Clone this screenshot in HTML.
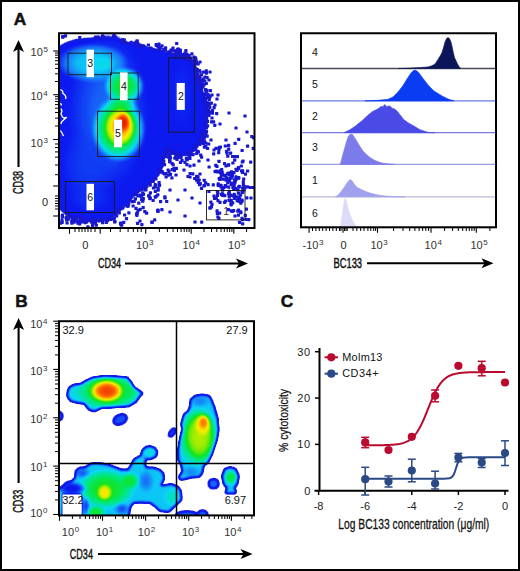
<!DOCTYPE html><html><head><meta charset="utf-8"><style>html,body{margin:0;padding:0;background:#fff}svg{display:block;fill:#111}text{font-family:"Liberation Sans",sans-serif}</style></head><body>
<svg width="520" height="571" viewBox="0 0 520 571">
<rect x="0" y="0" width="520" height="571" fill="#fff"/>
<text x="13.8" y="24.6" font-size="17.3" text-anchor="start" font-weight="bold" stroke="#111" stroke-width="0.5">A</text>
<text x="15.2" y="307.2" font-size="17.3" text-anchor="start" font-weight="bold" stroke="#111" stroke-width="0.5">B</text>
<text x="280.8" y="307.0" font-size="17.3" text-anchor="start" font-weight="bold" stroke="#111" stroke-width="0.5">C</text>
<defs><filter id="jetA" filterUnits="userSpaceOnUse" x="58" y="32.25" width="197.5" height="196.75" color-interpolation-filters="sRGB"><feGaussianBlur stdDeviation="1.0"/><feComponentTransfer><feFuncR type="table" tableValues="1.000 0.543 0.086 0.082 0.078 0.073 0.069 0.065 0.060 0.056 0.052 0.047 0.051 0.054 0.058 0.062 0.066 0.070 0.073 0.077 0.081 0.085 0.089 0.093 0.096 0.096 0.092 0.088 0.083 0.079 0.075 0.071 0.067 0.063 0.059 0.055 0.051 0.047 0.043 0.039 0.036 0.033 0.031 0.028 0.025 0.023 0.020 0.017 0.014 0.012 0.009 0.006 0.003 0.001 0.005 0.012 0.019 0.026 0.033 0.040 0.047 0.055 0.062 0.069 0.076 0.106 0.150 0.194 0.238 0.282 0.327 0.371 0.415 0.459 0.503 0.547 0.592 0.636 0.677 0.713 0.748 0.783 0.819 0.854 0.889 0.925 0.960 0.981 0.983 0.984 0.986 0.987 0.989 0.991 0.992 0.994 0.996 0.997 0.999 0.999 0.992 0.986 0.979 0.973 0.967 0.960 0.954 0.947 0.941 0.934 0.928 0.922"/><feFuncG type="table" tableValues="1.000 0.558 0.118 0.115 0.112 0.110 0.107 0.105 0.102 0.100 0.097 0.094 0.120 0.148 0.176 0.204 0.233 0.261 0.289 0.317 0.346 0.374 0.402 0.430 0.459 0.486 0.511 0.537 0.563 0.589 0.615 0.640 0.666 0.692 0.718 0.744 0.770 0.795 0.821 0.844 0.848 0.853 0.858 0.862 0.867 0.872 0.876 0.881 0.885 0.890 0.895 0.899 0.904 0.909 0.909 0.907 0.906 0.905 0.903 0.902 0.900 0.899 0.897 0.896 0.895 0.896 0.899 0.902 0.905 0.908 0.911 0.914 0.917 0.919 0.922 0.925 0.928 0.931 0.933 0.932 0.930 0.929 0.928 0.926 0.925 0.924 0.922 0.907 0.874 0.840 0.806 0.773 0.739 0.705 0.671 0.638 0.604 0.570 0.536 0.502 0.467 0.432 0.396 0.361 0.326 0.290 0.255 0.220 0.184 0.149 0.114 0.078"/><feFuncB type="table" tableValues="1.000 0.935 0.871 0.878 0.886 0.894 0.902 0.909 0.917 0.925 0.933 0.940 0.944 0.947 0.950 0.953 0.956 0.959 0.961 0.964 0.967 0.970 0.973 0.976 0.979 0.980 0.978 0.977 0.976 0.974 0.973 0.971 0.970 0.969 0.967 0.966 0.965 0.963 0.962 0.956 0.922 0.888 0.854 0.820 0.786 0.752 0.718 0.684 0.650 0.616 0.582 0.548 0.514 0.480 0.448 0.416 0.384 0.352 0.321 0.289 0.257 0.225 0.193 0.162 0.130 0.112 0.103 0.095 0.086 0.077 0.068 0.059 0.050 0.042 0.033 0.024 0.015 0.006 0.000 0.000 0.000 0.000 0.000 0.000 0.000 0.000 0.000 0.000 0.000 0.000 0.000 0.000 0.000 0.000 0.000 0.000 0.000 0.000 0.000 0.000 0.000 0.000 0.000 0.000 0.000 0.000 0.000 0.000 0.000 0.000 0.000 0.000"/><feFuncA type="identity"/></feComponentTransfer></filter><radialGradient id="ag1"><stop offset="0" stop-color="rgb(54,54,54)" stop-opacity="1"/><stop offset="0.35" stop-color="rgb(54,54,54)" stop-opacity="0.8"/><stop offset="0.65" stop-color="rgb(54,54,54)" stop-opacity="0.4"/><stop offset="0.85" stop-color="rgb(54,54,54)" stop-opacity="0.12"/><stop offset="1" stop-color="rgb(54,54,54)" stop-opacity="0"/></radialGradient><radialGradient id="ag2"><stop offset="0" stop-color="rgb(38,38,38)" stop-opacity="1"/><stop offset="0.35" stop-color="rgb(38,38,38)" stop-opacity="0.8"/><stop offset="0.65" stop-color="rgb(38,38,38)" stop-opacity="0.4"/><stop offset="0.85" stop-color="rgb(38,38,38)" stop-opacity="0.12"/><stop offset="1" stop-color="rgb(38,38,38)" stop-opacity="0"/></radialGradient><radialGradient id="ag3"><stop offset="0" stop-color="rgb(87,87,87)" stop-opacity="1"/><stop offset="0.45" stop-color="rgb(87,87,87)" stop-opacity="0.88"/><stop offset="0.75" stop-color="rgb(87,87,87)" stop-opacity="0.5"/><stop offset="0.92" stop-color="rgb(87,87,87)" stop-opacity="0.15"/><stop offset="1" stop-color="rgb(87,87,87)" stop-opacity="0"/></radialGradient><radialGradient id="ag4"><stop offset="0" stop-color="rgb(94,94,94)" stop-opacity="1"/><stop offset="0.35" stop-color="rgb(94,94,94)" stop-opacity="0.8"/><stop offset="0.65" stop-color="rgb(94,94,94)" stop-opacity="0.4"/><stop offset="0.85" stop-color="rgb(94,94,94)" stop-opacity="0.12"/><stop offset="1" stop-color="rgb(94,94,94)" stop-opacity="0"/></radialGradient><radialGradient id="ag5"><stop offset="0" stop-color="rgb(148,148,148)" stop-opacity="1"/><stop offset="0.45" stop-color="rgb(148,148,148)" stop-opacity="0.88"/><stop offset="0.75" stop-color="rgb(148,148,148)" stop-opacity="0.5"/><stop offset="0.92" stop-color="rgb(148,148,148)" stop-opacity="0.15"/><stop offset="1" stop-color="rgb(148,148,148)" stop-opacity="0"/></radialGradient><radialGradient id="ag6"><stop offset="0" stop-color="rgb(117,117,117)" stop-opacity="1"/><stop offset="0.35" stop-color="rgb(117,117,117)" stop-opacity="0.8"/><stop offset="0.65" stop-color="rgb(117,117,117)" stop-opacity="0.4"/><stop offset="0.85" stop-color="rgb(117,117,117)" stop-opacity="0.12"/><stop offset="1" stop-color="rgb(117,117,117)" stop-opacity="0"/></radialGradient><radialGradient id="ag7"><stop offset="0" stop-color="rgb(163,163,163)" stop-opacity="1"/><stop offset="0.45" stop-color="rgb(163,163,163)" stop-opacity="0.88"/><stop offset="0.75" stop-color="rgb(163,163,163)" stop-opacity="0.5"/><stop offset="0.92" stop-color="rgb(163,163,163)" stop-opacity="0.15"/><stop offset="1" stop-color="rgb(163,163,163)" stop-opacity="0"/></radialGradient><radialGradient id="ag8"><stop offset="0" stop-color="rgb(219,219,219)" stop-opacity="1"/><stop offset="0.45" stop-color="rgb(219,219,219)" stop-opacity="0.88"/><stop offset="0.75" stop-color="rgb(219,219,219)" stop-opacity="0.5"/><stop offset="0.92" stop-color="rgb(219,219,219)" stop-opacity="0.15"/><stop offset="1" stop-color="rgb(219,219,219)" stop-opacity="0"/></radialGradient><radialGradient id="ag9"><stop offset="0" stop-color="rgb(255,255,255)" stop-opacity="1"/><stop offset="0.45" stop-color="rgb(255,255,255)" stop-opacity="0.9"/><stop offset="0.8" stop-color="rgb(255,255,255)" stop-opacity="0.45"/><stop offset="1" stop-color="rgb(255,255,255)" stop-opacity="0"/></radialGradient><radialGradient id="ag10"><stop offset="0" stop-color="rgb(33,33,33)" stop-opacity="1"/><stop offset="0.35" stop-color="rgb(33,33,33)" stop-opacity="0.8"/><stop offset="0.65" stop-color="rgb(33,33,33)" stop-opacity="0.4"/><stop offset="0.85" stop-color="rgb(33,33,33)" stop-opacity="0.12"/><stop offset="1" stop-color="rgb(33,33,33)" stop-opacity="0"/></radialGradient><radialGradient id="ag11"><stop offset="0" stop-color="rgb(31,31,31)" stop-opacity="1"/><stop offset="0.35" stop-color="rgb(31,31,31)" stop-opacity="0.8"/><stop offset="0.65" stop-color="rgb(31,31,31)" stop-opacity="0.4"/><stop offset="0.85" stop-color="rgb(31,31,31)" stop-opacity="0.12"/><stop offset="1" stop-color="rgb(31,31,31)" stop-opacity="0"/></radialGradient><clipPath id="clipA"><rect x="59" y="33.25" width="195.5" height="194.75"/></clipPath></defs>
<g clip-path="url(#clipA)"><g filter="url(#jetA)"><rect x="49" y="23.25" width="215.5" height="214.75" fill="#000"/><path d="M54.0,52.0 L62.0,46.0 L66.7,43.5 L75.3,40.7 L86.8,39.2 L101.3,38.3 L115.7,38.3 L124.3,42.5 L135.9,45.0 L147.4,47.9 L159.0,50.7 L173.4,55.0 L184.9,57.5 L191.5,60.0 L196.4,72.0 L200.0,85.0 L204.0,98.0 L207.0,110.0 L206.0,125.0 L203.0,135.0 L197.0,146.0 L190.0,153.0 L183.0,155.0 L176.0,153.0 L170.0,149.0 L166.0,150.0 L163.0,155.0 L162.5,165.0 L158.0,175.0 L150.0,181.0 L145.0,186.0 L140.0,190.0 L133.0,196.0 L128.0,202.0 L122.0,208.0 L115.0,214.0 L110.0,218.0 L100.0,220.0 L85.0,219.0 L70.0,216.0 L62.0,210.0 L59.0,206.0 L54.0,206.0 Z" fill="rgb(26,26,26)"/><ellipse cx="108" cy="112" rx="42" ry="80" fill="url(#ag1)"/><ellipse cx="88" cy="165" rx="30" ry="40" fill="url(#ag2)"/><ellipse cx="93" cy="63" rx="36" ry="20" fill="url(#ag3)"/><ellipse cx="103" cy="64" rx="14" ry="10" fill="url(#ag4)"/><ellipse cx="124" cy="86" rx="20" ry="19" fill="url(#ag5)"/><ellipse cx="122" cy="104" rx="17" ry="10" fill="url(#ag6)"/><ellipse cx="118.5" cy="129" rx="27" ry="33" fill="url(#ag7)"/><ellipse cx="120.5" cy="126.5" rx="16" ry="20" fill="url(#ag8)"/><ellipse cx="123.2" cy="122.5" rx="7.5" ry="10.5" fill="url(#ag9)"/><ellipse cx="90" cy="198" rx="25" ry="16" fill="url(#ag10)"/><ellipse cx="182" cy="95" rx="14" ry="40" fill="url(#ag11)"/></g>
<polyline points="60.5,89.5 62.5,91 63,93.5 65,95 66,97.5 65.5,99" fill="none" stroke="#fff" stroke-width="1.3" stroke-linejoin="round"/>
<polyline points="60.5,103 61.5,105.5" fill="none" stroke="#fff" stroke-width="1.3" stroke-linejoin="round"/>
<polyline points="61,108.5 62,111 61,114 62.5,117 64,118 66.5,117.5 63.5,120 61.5,122 61,124" fill="none" stroke="#fff" stroke-width="1.3" stroke-linejoin="round"/>
<polyline points="60.5,130.5 62,133 63.5,136" fill="none" stroke="#fff" stroke-width="1.3" stroke-linejoin="round"/>
<rect x="222.6" y="196.3" width="7.2" height="23.1" fill="#fff"/><text x="226.2" y="214.6" font-size="10.5" text-anchor="middle" fill="#333">1</text>
<g fill="#1818d0"><rect x="204.9" y="130.0" width="3.2" height="3.2" rx="0.6"/><rect x="193.8" y="58.2" width="3.2" height="3.2" rx="0.6"/><rect x="161.8" y="156.0" width="3.2" height="3.2" rx="0.6"/><rect x="164.3" y="148.6" width="3.2" height="3.2" rx="0.6"/><rect x="182.0" y="54.6" width="3.2" height="3.2" rx="0.6"/><rect x="192.0" y="64.6" width="3.2" height="3.2" rx="0.6"/><rect x="186.2" y="152.0" width="3.2" height="3.2" rx="0.6"/><rect x="204.3" y="100.7" width="3.2" height="3.2" rx="0.6"/><rect x="154.3" y="183.8" width="3.2" height="3.2" rx="0.6"/><rect x="192.9" y="147.8" width="3.2" height="3.2" rx="0.6"/><rect x="59.1" y="221.5" width="3.2" height="3.2" rx="0.6"/><rect x="205.9" y="119.8" width="3.2" height="3.2" rx="0.6"/><rect x="198.7" y="78.7" width="3.2" height="3.2" rx="0.6"/><rect x="112.0" y="217.1" width="3.2" height="3.2" rx="0.6"/><rect x="204.0" y="88.0" width="3.2" height="3.2" rx="0.6"/><rect x="198.3" y="142.8" width="3.2" height="3.2" rx="0.6"/><rect x="162.2" y="159.5" width="3.2" height="3.2" rx="0.6"/><rect x="201.9" y="96.2" width="3.2" height="3.2" rx="0.6"/><rect x="141.2" y="191.4" width="3.2" height="3.2" rx="0.6"/><rect x="159.4" y="170.3" width="3.2" height="3.2" rx="0.6"/><rect x="178.0" y="153.7" width="3.2" height="3.2" rx="0.6"/><rect x="141.1" y="199.3" width="3.2" height="3.2" rx="0.6"/><rect x="208.2" y="105.9" width="3.2" height="3.2" rx="0.6"/><rect x="93.8" y="220.7" width="3.2" height="3.2" rx="0.6"/><rect x="131.0" y="200.1" width="3.2" height="3.2" rx="0.6"/><rect x="204.7" y="69.2" width="3.2" height="3.2" rx="0.6"/><rect x="187.7" y="150.7" width="3.2" height="3.2" rx="0.6"/><rect x="168.5" y="149.0" width="3.2" height="3.2" rx="0.6"/><rect x="182.9" y="52.9" width="3.2" height="3.2" rx="0.6"/><rect x="167.4" y="169.9" width="3.2" height="3.2" rx="0.6"/><rect x="93.7" y="221.0" width="3.2" height="3.2" rx="0.6"/><rect x="164.5" y="175.4" width="3.2" height="3.2" rx="0.6"/><rect x="168.8" y="172.7" width="3.2" height="3.2" rx="0.6"/><rect x="73.7" y="217.9" width="3.2" height="3.2" rx="0.6"/><rect x="172.9" y="150.1" width="3.2" height="3.2" rx="0.6"/><rect x="134.6" y="192.9" width="3.2" height="3.2" rx="0.6"/><rect x="153.7" y="189.8" width="3.2" height="3.2" rx="0.6"/><rect x="204.1" y="118.3" width="3.2" height="3.2" rx="0.6"/><rect x="194.3" y="144.7" width="3.2" height="3.2" rx="0.6"/><rect x="176.0" y="151.6" width="3.2" height="3.2" rx="0.6"/><rect x="199.1" y="85.7" width="3.2" height="3.2" rx="0.6"/><rect x="121.1" y="206.4" width="3.2" height="3.2" rx="0.6"/><rect x="195.2" y="75.2" width="3.2" height="3.2" rx="0.6"/><rect x="94.7" y="223.6" width="3.2" height="3.2" rx="0.6"/><rect x="194.8" y="60.3" width="3.2" height="3.2" rx="0.6"/><rect x="91.5" y="219.5" width="3.2" height="3.2" rx="0.6"/><rect x="111.1" y="217.4" width="3.2" height="3.2" rx="0.6"/><rect x="189.7" y="152.2" width="3.2" height="3.2" rx="0.6"/><rect x="204.3" y="141.6" width="3.2" height="3.2" rx="0.6"/><rect x="203.2" y="79.4" width="3.2" height="3.2" rx="0.6"/><rect x="199.1" y="88.1" width="3.2" height="3.2" rx="0.6"/><rect x="169.1" y="150.1" width="3.2" height="3.2" rx="0.6"/><rect x="156.8" y="170.2" width="3.2" height="3.2" rx="0.6"/><rect x="187.6" y="151.0" width="3.2" height="3.2" rx="0.6"/><rect x="204.2" y="145.0" width="3.2" height="3.2" rx="0.6"/><rect x="140.0" y="194.3" width="3.2" height="3.2" rx="0.6"/><rect x="168.4" y="153.8" width="3.2" height="3.2" rx="0.6"/><rect x="187.5" y="54.0" width="3.2" height="3.2" rx="0.6"/><rect x="86.9" y="219.1" width="3.2" height="3.2" rx="0.6"/><rect x="122.1" y="220.7" width="3.2" height="3.2" rx="0.6"/><rect x="193.7" y="146.8" width="3.2" height="3.2" rx="0.6"/><rect x="148.9" y="180.0" width="3.2" height="3.2" rx="0.6"/><rect x="189.1" y="56.4" width="3.2" height="3.2" rx="0.6"/><rect x="198.7" y="84.0" width="3.2" height="3.2" rx="0.6"/><rect x="200.4" y="133.3" width="3.2" height="3.2" rx="0.6"/><rect x="196.8" y="81.3" width="3.2" height="3.2" rx="0.6"/><rect x="193.2" y="67.5" width="3.2" height="3.2" rx="0.6"/><rect x="94.2" y="218.2" width="3.2" height="3.2" rx="0.6"/><rect x="154.3" y="177.4" width="3.2" height="3.2" rx="0.6"/><rect x="201.5" y="136.3" width="3.2" height="3.2" rx="0.6"/><rect x="201.9" y="142.0" width="3.2" height="3.2" rx="0.6"/><rect x="174.5" y="152.2" width="3.2" height="3.2" rx="0.6"/><rect x="192.9" y="67.9" width="3.2" height="3.2" rx="0.6"/><rect x="200.6" y="134.3" width="3.2" height="3.2" rx="0.6"/><rect x="204.7" y="81.9" width="3.2" height="3.2" rx="0.6"/><rect x="178.7" y="50.4" width="3.2" height="3.2" rx="0.6"/><rect x="197.9" y="79.6" width="3.2" height="3.2" rx="0.6"/><rect x="168.0" y="158.4" width="3.2" height="3.2" rx="0.6"/><rect x="65.1" y="212.4" width="3.2" height="3.2" rx="0.6"/><rect x="97.3" y="219.0" width="3.2" height="3.2" rx="0.6"/><rect x="199.2" y="141.4" width="3.2" height="3.2" rx="0.6"/><rect x="198.7" y="85.5" width="3.2" height="3.2" rx="0.6"/><rect x="123.0" y="213.4" width="3.2" height="3.2" rx="0.6"/><rect x="202.4" y="131.0" width="3.2" height="3.2" rx="0.6"/><rect x="101.0" y="221.1" width="3.2" height="3.2" rx="0.6"/><rect x="134.4" y="206.8" width="3.2" height="3.2" rx="0.6"/><rect x="206.4" y="101.2" width="3.2" height="3.2" rx="0.6"/><rect x="179.3" y="55.0" width="3.2" height="3.2" rx="0.6"/><rect x="179.1" y="54.8" width="3.2" height="3.2" rx="0.6"/><rect x="138.5" y="193.5" width="3.2" height="3.2" rx="0.6"/><rect x="60.8" y="213.6" width="3.2" height="3.2" rx="0.6"/><rect x="70.9" y="217.0" width="3.2" height="3.2" rx="0.6"/><rect x="204.9" y="101.6" width="3.2" height="3.2" rx="0.6"/><rect x="202.1" y="93.4" width="3.2" height="3.2" rx="0.6"/><rect x="86.3" y="225.3" width="3.2" height="3.2" rx="0.6"/><rect x="114.1" y="212.1" width="3.2" height="3.2" rx="0.6"/><rect x="195.1" y="61.5" width="3.2" height="3.2" rx="0.6"/><rect x="124.9" y="217.1" width="3.2" height="3.2" rx="0.6"/><rect x="126.6" y="204.5" width="3.2" height="3.2" rx="0.6"/><rect x="115.9" y="209.6" width="3.2" height="3.2" rx="0.6"/><rect x="204.2" y="132.4" width="3.2" height="3.2" rx="0.6"/><rect x="199.1" y="153.6" width="3.2" height="3.2" rx="0.6"/><rect x="195.1" y="151.9" width="3.2" height="3.2" rx="0.6"/><rect x="200.3" y="85.9" width="3.2" height="3.2" rx="0.6"/><rect x="199.8" y="73.2" width="3.2" height="3.2" rx="0.6"/><rect x="119.0" y="221.4" width="3.2" height="3.2" rx="0.6"/><rect x="201.4" y="78.5" width="3.2" height="3.2" rx="0.6"/><rect x="154.5" y="194.7" width="3.2" height="3.2" rx="0.6"/><rect x="200.7" y="136.9" width="3.2" height="3.2" rx="0.6"/><rect x="175.3" y="53.7" width="3.2" height="3.2" rx="0.6"/><rect x="64.9" y="216.4" width="3.2" height="3.2" rx="0.6"/><rect x="76.3" y="221.5" width="3.2" height="3.2" rx="0.6"/><rect x="184.8" y="156.8" width="3.2" height="3.2" rx="0.6"/><rect x="206.9" y="96.4" width="3.2" height="3.2" rx="0.6"/><rect x="205.2" y="108.9" width="3.2" height="3.2" rx="0.6"/><rect x="161.3" y="171.4" width="3.2" height="3.2" rx="0.6"/><rect x="206.1" y="111.1" width="3.2" height="3.2" rx="0.6"/><rect x="83.9" y="218.1" width="3.2" height="3.2" rx="0.6"/><rect x="202.9" y="139.2" width="3.2" height="3.2" rx="0.6"/><rect x="85.5" y="218.8" width="3.2" height="3.2" rx="0.6"/><rect x="188.1" y="154.7" width="3.2" height="3.2" rx="0.6"/><rect x="164.1" y="155.0" width="3.2" height="3.2" rx="0.6"/><rect x="167.0" y="155.6" width="3.2" height="3.2" rx="0.6"/><rect x="199.9" y="89.9" width="3.2" height="3.2" rx="0.6"/><rect x="172.4" y="52.9" width="3.2" height="3.2" rx="0.6"/><rect x="172.1" y="151.5" width="3.2" height="3.2" rx="0.6"/><rect x="132.6" y="199.8" width="3.2" height="3.2" rx="0.6"/><rect x="163.5" y="151.8" width="3.2" height="3.2" rx="0.6"/><rect x="160.6" y="161.6" width="3.2" height="3.2" rx="0.6"/><rect x="162.9" y="163.1" width="3.2" height="3.2" rx="0.6"/><rect x="205.4" y="107.9" width="3.2" height="3.2" rx="0.6"/><rect x="169.2" y="151.6" width="3.2" height="3.2" rx="0.6"/><rect x="160.8" y="163.4" width="3.2" height="3.2" rx="0.6"/><rect x="178.9" y="160.8" width="3.2" height="3.2" rx="0.6"/><rect x="157.5" y="181.0" width="3.2" height="3.2" rx="0.6"/><rect x="135.4" y="190.0" width="3.2" height="3.2" rx="0.6"/><rect x="177.6" y="155.9" width="3.2" height="3.2" rx="0.6"/><rect x="75.0" y="216.3" width="3.2" height="3.2" rx="0.6"/><rect x="141.1" y="199.4" width="3.2" height="3.2" rx="0.6"/><rect x="210.9" y="111.5" width="3.2" height="3.2" rx="0.6"/><rect x="171.6" y="163.3" width="3.2" height="3.2" rx="0.6"/><rect x="198.3" y="76.7" width="3.2" height="3.2" rx="0.6"/><rect x="195.9" y="72.7" width="3.2" height="3.2" rx="0.6"/><rect x="204.3" y="105.9" width="3.2" height="3.2" rx="0.6"/><rect x="192.7" y="58.9" width="3.2" height="3.2" rx="0.6"/><rect x="198.2" y="81.8" width="3.2" height="3.2" rx="0.6"/><rect x="201.7" y="77.5" width="3.2" height="3.2" rx="0.6"/><rect x="91.6" y="221.4" width="3.2" height="3.2" rx="0.6"/><rect x="72.0" y="215.0" width="3.2" height="3.2" rx="0.6"/><rect x="200.0" y="155.5" width="3.2" height="3.2" rx="0.6"/><rect x="106.2" y="217.4" width="3.2" height="3.2" rx="0.6"/><rect x="201.8" y="82.9" width="3.2" height="3.2" rx="0.6"/><rect x="202.2" y="134.0" width="3.2" height="3.2" rx="0.6"/><rect x="203.0" y="92.8" width="3.2" height="3.2" rx="0.6"/><rect x="178.0" y="49.1" width="3.2" height="3.2" rx="0.6"/><rect x="161.2" y="161.2" width="3.2" height="3.2" rx="0.6"/><rect x="201.3" y="131.2" width="3.2" height="3.2" rx="0.6"/><rect x="151.7" y="178.7" width="3.2" height="3.2" rx="0.6"/><rect x="64.3" y="210.3" width="3.2" height="3.2" rx="0.6"/><rect x="117.7" y="211.4" width="3.2" height="3.2" rx="0.6"/><rect x="204.4" y="112.8" width="3.2" height="3.2" rx="0.6"/><rect x="182.3" y="55.6" width="3.2" height="3.2" rx="0.6"/><rect x="198.1" y="74.4" width="3.2" height="3.2" rx="0.6"/><rect x="188.3" y="156.9" width="3.2" height="3.2" rx="0.6"/><rect x="208.1" y="111.0" width="3.2" height="3.2" rx="0.6"/><rect x="201.0" y="79.6" width="3.2" height="3.2" rx="0.6"/><rect x="136.3" y="194.3" width="3.2" height="3.2" rx="0.6"/><rect x="196.6" y="62.4" width="3.2" height="3.2" rx="0.6"/><rect x="186.3" y="153.2" width="3.2" height="3.2" rx="0.6"/><rect x="194.3" y="58.0" width="3.2" height="3.2" rx="0.6"/><rect x="115.1" y="214.2" width="3.2" height="3.2" rx="0.6"/><rect x="191.6" y="62.7" width="3.2" height="3.2" rx="0.6"/><rect x="97.5" y="219.2" width="3.2" height="3.2" rx="0.6"/><rect x="177.6" y="154.1" width="3.2" height="3.2" rx="0.6"/><rect x="78.1" y="222.4" width="3.2" height="3.2" rx="0.6"/><rect x="207.4" y="113.7" width="3.2" height="3.2" rx="0.6"/><rect x="207.1" y="104.5" width="3.2" height="3.2" rx="0.6"/><rect x="194.1" y="69.6" width="3.2" height="3.2" rx="0.6"/><rect x="202.0" y="94.9" width="3.2" height="3.2" rx="0.6"/><rect x="204.8" y="126.4" width="3.2" height="3.2" rx="0.6"/><rect x="210.0" y="120.2" width="3.2" height="3.2" rx="0.6"/><rect x="166.4" y="148.5" width="3.2" height="3.2" rx="0.6"/><rect x="177.0" y="51.4" width="3.2" height="3.2" rx="0.6"/><rect x="210.9" y="108.9" width="3.2" height="3.2" rx="0.6"/><rect x="161.1" y="160.3" width="3.2" height="3.2" rx="0.6"/><rect x="208.8" y="89.1" width="3.2" height="3.2" rx="0.6"/><rect x="194.5" y="68.4" width="3.2" height="3.2" rx="0.6"/><rect x="113.3" y="220.0" width="3.2" height="3.2" rx="0.6"/><rect x="105.9" y="219.1" width="3.2" height="3.2" rx="0.6"/><rect x="196.8" y="150.2" width="3.2" height="3.2" rx="0.6"/><rect x="64.8" y="211.0" width="3.2" height="3.2" rx="0.6"/><rect x="202.7" y="135.4" width="3.2" height="3.2" rx="0.6"/><rect x="153.7" y="185.2" width="3.2" height="3.2" rx="0.6"/><rect x="190.7" y="148.8" width="3.2" height="3.2" rx="0.6"/><rect x="196.2" y="75.1" width="3.2" height="3.2" rx="0.6"/><rect x="189.4" y="59.5" width="3.2" height="3.2" rx="0.6"/><rect x="200.7" y="83.7" width="3.2" height="3.2" rx="0.6"/><rect x="194.8" y="61.5" width="3.2" height="3.2" rx="0.6"/><rect x="147.1" y="194.3" width="3.2" height="3.2" rx="0.6"/><rect x="204.0" y="117.5" width="3.2" height="3.2" rx="0.6"/><rect x="175.9" y="154.3" width="3.2" height="3.2" rx="0.6"/><rect x="200.1" y="82.2" width="3.2" height="3.2" rx="0.6"/><rect x="69.2" y="215.3" width="3.2" height="3.2" rx="0.6"/><rect x="64.5" y="216.1" width="3.2" height="3.2" rx="0.6"/><rect x="68.1" y="214.7" width="3.2" height="3.2" rx="0.6"/><rect x="203.0" y="125.1" width="3.2" height="3.2" rx="0.6"/><rect x="194.7" y="143.8" width="3.2" height="3.2" rx="0.6"/><rect x="171.7" y="151.6" width="3.2" height="3.2" rx="0.6"/><rect x="164.7" y="147.3" width="3.2" height="3.2" rx="0.6"/><rect x="172.6" y="53.6" width="3.2" height="3.2" rx="0.6"/><rect x="192.4" y="148.4" width="3.2" height="3.2" rx="0.6"/><rect x="183.6" y="53.0" width="3.2" height="3.2" rx="0.6"/><rect x="203.7" y="103.7" width="3.2" height="3.2" rx="0.6"/><rect x="166.9" y="173.6" width="3.2" height="3.2" rx="0.6"/><rect x="144.4" y="184.8" width="3.2" height="3.2" rx="0.6"/><rect x="133.8" y="197.3" width="3.2" height="3.2" rx="0.6"/><rect x="204.1" y="130.5" width="3.2" height="3.2" rx="0.6"/><rect x="60.8" y="215.2" width="3.2" height="3.2" rx="0.6"/><rect x="151.9" y="186.4" width="3.2" height="3.2" rx="0.6"/><rect x="185.0" y="52.5" width="3.2" height="3.2" rx="0.6"/><rect x="156.5" y="186.8" width="3.2" height="3.2" rx="0.6"/><rect x="127.9" y="199.1" width="3.2" height="3.2" rx="0.6"/><rect x="163.8" y="153.8" width="3.2" height="3.2" rx="0.6"/><rect x="165.7" y="150.8" width="3.2" height="3.2" rx="0.6"/><rect x="164.4" y="172.0" width="3.2" height="3.2" rx="0.6"/><rect x="139.1" y="194.5" width="3.2" height="3.2" rx="0.6"/><rect x="205.1" y="102.5" width="3.2" height="3.2" rx="0.6"/><rect x="197.8" y="138.7" width="3.2" height="3.2" rx="0.6"/><rect x="195.4" y="67.7" width="3.2" height="3.2" rx="0.6"/><rect x="153.6" y="183.1" width="3.2" height="3.2" rx="0.6"/><rect x="151.6" y="179.7" width="3.2" height="3.2" rx="0.6"/><rect x="173.1" y="49.5" width="3.2" height="3.2" rx="0.6"/><rect x="113.8" y="210.9" width="3.2" height="3.2" rx="0.6"/><rect x="168.0" y="156.1" width="3.2" height="3.2" rx="0.6"/><rect x="148.8" y="191.2" width="3.2" height="3.2" rx="0.6"/><rect x="207.0" y="109.1" width="3.2" height="3.2" rx="0.6"/><rect x="190.3" y="60.3" width="3.2" height="3.2" rx="0.6"/><rect x="207.4" y="94.3" width="3.2" height="3.2" rx="0.6"/><rect x="131.5" y="204.4" width="3.2" height="3.2" rx="0.6"/><rect x="195.1" y="144.3" width="3.2" height="3.2" rx="0.6"/><rect x="170.6" y="151.0" width="3.2" height="3.2" rx="0.6"/><rect x="157.9" y="183.7" width="3.2" height="3.2" rx="0.6"/><rect x="148.3" y="182.7" width="3.2" height="3.2" rx="0.6"/><rect x="205.4" y="109.5" width="3.2" height="3.2" rx="0.6"/><rect x="127.2" y="202.2" width="3.2" height="3.2" rx="0.6"/><rect x="175.8" y="49.5" width="3.2" height="3.2" rx="0.6"/><rect x="187.9" y="57.8" width="3.2" height="3.2" rx="0.6"/><rect x="141.7" y="197.0" width="3.2" height="3.2" rx="0.6"/><rect x="140.3" y="188.2" width="3.2" height="3.2" rx="0.6"/><rect x="174.1" y="155.1" width="3.2" height="3.2" rx="0.6"/><rect x="173.2" y="156.5" width="3.2" height="3.2" rx="0.6"/><rect x="206.3" y="92.8" width="3.2" height="3.2" rx="0.6"/><rect x="65.4" y="212.3" width="3.2" height="3.2" rx="0.6"/><rect x="176.9" y="151.4" width="3.2" height="3.2" rx="0.6"/><rect x="113.1" y="220.2" width="3.2" height="3.2" rx="0.6"/><rect x="204.9" y="113.7" width="3.2" height="3.2" rx="0.6"/><rect x="204.1" y="96.8" width="3.2" height="3.2" rx="0.6"/><rect x="159.0" y="168.8" width="3.2" height="3.2" rx="0.6"/><rect x="205.5" y="76.0" width="3.2" height="3.2" rx="0.6"/><rect x="196.8" y="75.7" width="3.2" height="3.2" rx="0.6"/><rect x="133.4" y="192.3" width="3.2" height="3.2" rx="0.6"/><rect x="206.7" y="102.5" width="3.2" height="3.2" rx="0.6"/><rect x="178.8" y="52.4" width="3.2" height="3.2" rx="0.6"/><rect x="173.2" y="49.4" width="3.2" height="3.2" rx="0.6"/><rect x="203.6" y="123.2" width="3.2" height="3.2" rx="0.6"/><rect x="197.8" y="77.9" width="3.2" height="3.2" rx="0.6"/><rect x="104.7" y="220.9" width="3.2" height="3.2" rx="0.6"/><rect x="171.7" y="53.5" width="3.2" height="3.2" rx="0.6"/><rect x="201.8" y="70.6" width="3.2" height="3.2" rx="0.6"/><rect x="78.9" y="218.8" width="3.2" height="3.2" rx="0.6"/><rect x="212.0" y="120.3" width="3.2" height="3.2" rx="0.6"/><rect x="206.0" y="146.9" width="3.2" height="3.2" rx="0.6"/><rect x="170.3" y="176.3" width="3.2" height="3.2" rx="0.6"/><rect x="200.0" y="139.9" width="3.2" height="3.2" rx="0.6"/><rect x="184.9" y="55.7" width="3.2" height="3.2" rx="0.6"/><rect x="194.2" y="67.2" width="3.2" height="3.2" rx="0.6"/><rect x="76.1" y="219.6" width="3.2" height="3.2" rx="0.6"/><rect x="204.8" y="108.3" width="3.2" height="3.2" rx="0.6"/><rect x="204.5" y="90.6" width="3.2" height="3.2" rx="0.6"/><rect x="202.8" y="145.5" width="3.2" height="3.2" rx="0.6"/><rect x="112.9" y="216.3" width="3.2" height="3.2" rx="0.6"/><rect x="156.6" y="188.5" width="3.2" height="3.2" rx="0.6"/><rect x="168.1" y="160.2" width="3.2" height="3.2" rx="0.6"/><rect x="137.2" y="201.6" width="3.2" height="3.2" rx="0.6"/><rect x="178.7" y="153.6" width="3.2" height="3.2" rx="0.6"/><rect x="125.6" y="204.5" width="3.2" height="3.2" rx="0.6"/><rect x="185.6" y="54.7" width="3.2" height="3.2" rx="0.6"/><rect x="78.4" y="220.6" width="3.2" height="3.2" rx="0.6"/><rect x="202.7" y="135.7" width="3.2" height="3.2" rx="0.6"/><rect x="204.2" y="122.1" width="3.2" height="3.2" rx="0.6"/><rect x="215.1" y="112.0" width="3.2" height="3.2" rx="0.6"/><rect x="145.2" y="184.9" width="3.2" height="3.2" rx="0.6"/><rect x="195.6" y="149.6" width="3.2" height="3.2" rx="0.6"/><rect x="199.5" y="85.3" width="3.2" height="3.2" rx="0.6"/><rect x="85.0" y="220.3" width="3.2" height="3.2" rx="0.6"/><rect x="167.2" y="148.3" width="3.2" height="3.2" rx="0.6"/><rect x="179.0" y="153.4" width="3.2" height="3.2" rx="0.6"/><rect x="193.3" y="64.1" width="3.2" height="3.2" rx="0.6"/><rect x="202.2" y="135.0" width="3.2" height="3.2" rx="0.6"/><rect x="205.8" y="110.8" width="3.2" height="3.2" rx="0.6"/><rect x="166.5" y="168.4" width="3.2" height="3.2" rx="0.6"/><rect x="191.5" y="153.0" width="3.2" height="3.2" rx="0.6"/><rect x="191.0" y="152.9" width="3.2" height="3.2" rx="0.6"/><rect x="201.0" y="133.2" width="3.2" height="3.2" rx="0.6"/><rect x="188.7" y="57.0" width="3.2" height="3.2" rx="0.6"/><rect x="204.8" y="71.5" width="3.2" height="3.2" rx="0.6"/><rect x="166.4" y="152.5" width="3.2" height="3.2" rx="0.6"/><rect x="207.7" y="97.7" width="3.2" height="3.2" rx="0.6"/><rect x="204.0" y="114.3" width="3.2" height="3.2" rx="0.6"/><rect x="179.5" y="156.0" width="3.2" height="3.2" rx="0.6"/><rect x="70.3" y="221.6" width="3.2" height="3.2" rx="0.6"/><rect x="178.8" y="48.5" width="3.2" height="3.2" rx="0.6"/><rect x="180.7" y="53.5" width="3.2" height="3.2" rx="0.6"/><rect x="168.9" y="156.4" width="3.2" height="3.2" rx="0.6"/><rect x="162.9" y="172.3" width="3.2" height="3.2" rx="0.6"/><rect x="79.4" y="215.6" width="3.2" height="3.2" rx="0.6"/><rect x="212.5" y="106.1" width="3.2" height="3.2" rx="0.6"/><rect x="196.0" y="68.7" width="3.2" height="3.2" rx="0.6"/><rect x="141.8" y="192.7" width="3.2" height="3.2" rx="0.6"/><rect x="75.0" y="216.4" width="3.2" height="3.2" rx="0.6"/><rect x="127.3" y="211.2" width="3.2" height="3.2" rx="0.6"/><rect x="177.1" y="152.3" width="3.2" height="3.2" rx="0.6"/><rect x="117.5" y="208.4" width="3.2" height="3.2" rx="0.6"/><rect x="208.1" y="102.5" width="3.2" height="3.2" rx="0.6"/><rect x="206.0" y="124.3" width="3.2" height="3.2" rx="0.6"/><rect x="195.1" y="74.8" width="3.2" height="3.2" rx="0.6"/><rect x="140.0" y="197.9" width="3.2" height="3.2" rx="0.6"/><rect x="197.9" y="68.9" width="3.2" height="3.2" rx="0.6"/><rect x="160.6" y="169.9" width="3.2" height="3.2" rx="0.6"/><rect x="194.1" y="145.5" width="3.2" height="3.2" rx="0.6"/><rect x="175.4" y="48.9" width="3.2" height="3.2" rx="0.6"/><rect x="213.2" y="123.7" width="3.2" height="3.2" rx="0.6"/><rect x="148.5" y="183.6" width="3.2" height="3.2" rx="0.6"/><rect x="91.3" y="221.6" width="3.2" height="3.2" rx="0.6"/><rect x="204.7" y="107.7" width="3.2" height="3.2" rx="0.6"/><rect x="69.6" y="215.2" width="3.2" height="3.2" rx="0.6"/><rect x="178.0" y="51.7" width="3.2" height="3.2" rx="0.6"/><rect x="166.9" y="148.7" width="3.2" height="3.2" rx="0.6"/><rect x="208.0" y="110.6" width="3.2" height="3.2" rx="0.6"/><rect x="143.5" y="188.3" width="3.2" height="3.2" rx="0.6"/><rect x="181.0" y="54.5" width="3.2" height="3.2" rx="0.6"/><rect x="205.6" y="134.5" width="3.2" height="3.2" rx="0.6"/><rect x="203.5" y="93.4" width="3.2" height="3.2" rx="0.6"/><rect x="114.2" y="211.1" width="3.2" height="3.2" rx="0.6"/><rect x="205.8" y="94.8" width="3.2" height="3.2" rx="0.6"/><rect x="65.2" y="216.4" width="3.2" height="3.2" rx="0.6"/><rect x="209.7" y="101.6" width="3.2" height="3.2" rx="0.6"/><rect x="202.6" y="100.6" width="3.2" height="3.2" rx="0.6"/><rect x="71.3" y="219.5" width="3.2" height="3.2" rx="0.6"/><rect x="167.4" y="147.7" width="3.2" height="3.2" rx="0.6"/><rect x="188.7" y="153.0" width="3.2" height="3.2" rx="0.6"/><rect x="143.6" y="187.4" width="3.2" height="3.2" rx="0.6"/><rect x="192.9" y="146.5" width="3.2" height="3.2" rx="0.6"/><rect x="204.0" y="97.7" width="3.2" height="3.2" rx="0.6"/><rect x="185.4" y="57.0" width="3.2" height="3.2" rx="0.6"/><rect x="190.3" y="52.3" width="3.2" height="3.2" rx="0.6"/><rect x="138.6" y="207.7" width="3.2" height="3.2" rx="0.6"/><rect x="201.4" y="130.6" width="3.2" height="3.2" rx="0.6"/><rect x="205.4" y="89.0" width="3.2" height="3.2" rx="0.6"/><rect x="180.7" y="53.1" width="3.2" height="3.2" rx="0.6"/><rect x="144.4" y="188.1" width="3.2" height="3.2" rx="0.6"/><rect x="203.6" y="132.0" width="3.2" height="3.2" rx="0.6"/><rect x="201.3" y="85.3" width="3.2" height="3.2" rx="0.6"/><rect x="198.8" y="136.2" width="3.2" height="3.2" rx="0.6"/><rect x="208.5" y="95.0" width="3.2" height="3.2" rx="0.6"/><rect x="200.9" y="139.0" width="3.2" height="3.2" rx="0.6"/><rect x="185.6" y="158.1" width="3.2" height="3.2" rx="0.6"/><rect x="186.2" y="53.6" width="3.2" height="3.2" rx="0.6"/><rect x="81.3" y="217.0" width="3.2" height="3.2" rx="0.6"/><rect x="171.4" y="46.4" width="3.2" height="3.2" rx="0.6"/><rect x="175.4" y="50.4" width="3.2" height="3.2" rx="0.6"/><rect x="183.4" y="51.4" width="3.2" height="3.2" rx="0.6"/><rect x="192.4" y="55.4" width="3.2" height="3.2" rx="0.6"/><rect x="198.4" y="60.4" width="3.2" height="3.2" rx="0.6"/><rect x="198.4" y="70.4" width="3.2" height="3.2" rx="0.6"/><rect x="208.4" y="70.4" width="3.2" height="3.2" rx="0.6"/><rect x="203.4" y="75.4" width="3.2" height="3.2" rx="0.6"/><rect x="207.4" y="78.4" width="3.2" height="3.2" rx="0.6"/><rect x="202.4" y="83.4" width="3.2" height="3.2" rx="0.6"/><rect x="210.4" y="93.4" width="3.2" height="3.2" rx="0.6"/><rect x="216.4" y="93.4" width="3.2" height="3.2" rx="0.6"/><rect x="215.4" y="97.4" width="3.2" height="3.2" rx="0.6"/><rect x="213.4" y="103.4" width="3.2" height="3.2" rx="0.6"/><rect x="227.4" y="111.4" width="3.2" height="3.2" rx="0.6"/><rect x="243.4" y="114.4" width="3.2" height="3.2" rx="0.6"/><rect x="218.4" y="122.4" width="3.2" height="3.2" rx="0.6"/><rect x="234.4" y="126.4" width="3.2" height="3.2" rx="0.6"/><rect x="245.4" y="130.4" width="3.2" height="3.2" rx="0.6"/><rect x="224.4" y="138.4" width="3.2" height="3.2" rx="0.6"/><rect x="210.4" y="116.4" width="3.2" height="3.2" rx="0.6"/><rect x="209.4" y="138.4" width="3.2" height="3.2" rx="0.6"/><rect x="212.4" y="148.4" width="3.2" height="3.2" rx="0.6"/><rect x="206.4" y="158.4" width="3.2" height="3.2" rx="0.6"/><rect x="197.4" y="159.4" width="3.2" height="3.2" rx="0.6"/><rect x="188.4" y="164.4" width="3.2" height="3.2" rx="0.6"/><rect x="182.4" y="168.4" width="3.2" height="3.2" rx="0.6"/><rect x="174.4" y="173.4" width="3.2" height="3.2" rx="0.6"/><rect x="188.4" y="175.4" width="3.2" height="3.2" rx="0.6"/><rect x="198.4" y="172.4" width="3.2" height="3.2" rx="0.6"/><rect x="202.4" y="184.4" width="3.2" height="3.2" rx="0.6"/><rect x="183.4" y="188.4" width="3.2" height="3.2" rx="0.6"/><rect x="168.4" y="188.4" width="3.2" height="3.2" rx="0.6"/><rect x="163.4" y="196.4" width="3.2" height="3.2" rx="0.6"/><rect x="176.4" y="198.4" width="3.2" height="3.2" rx="0.6"/><rect x="190.4" y="196.4" width="3.2" height="3.2" rx="0.6"/><rect x="198.4" y="201.4" width="3.2" height="3.2" rx="0.6"/><rect x="168.4" y="210.4" width="3.2" height="3.2" rx="0.6"/><rect x="156.4" y="208.4" width="3.2" height="3.2" rx="0.6"/><rect x="183.4" y="214.4" width="3.2" height="3.2" rx="0.6"/><rect x="193.4" y="220.4" width="3.2" height="3.2" rx="0.6"/><rect x="150.4" y="220.4" width="3.2" height="3.2" rx="0.6"/><rect x="138.4" y="219.4" width="3.2" height="3.2" rx="0.6"/><rect x="208.4" y="206.4" width="3.2" height="3.2" rx="0.6"/><rect x="212.4" y="194.4" width="3.2" height="3.2" rx="0.6"/><rect x="231.1" y="201.3" width="3.2" height="3.2" rx="0.6"/><rect x="229.6" y="181.6" width="3.2" height="3.2" rx="0.6"/><rect x="210.4" y="202.9" width="3.2" height="3.2" rx="0.6"/><rect x="227.7" y="179.0" width="3.2" height="3.2" rx="0.6"/><rect x="231.3" y="185.9" width="3.2" height="3.2" rx="0.6"/><rect x="234.8" y="177.4" width="3.2" height="3.2" rx="0.6"/><rect x="227.0" y="143.8" width="3.2" height="3.2" rx="0.6"/><rect x="242.1" y="177.5" width="3.2" height="3.2" rx="0.6"/><rect x="245.9" y="185.2" width="3.2" height="3.2" rx="0.6"/><rect x="240.9" y="170.9" width="3.2" height="3.2" rx="0.6"/><rect x="229.7" y="182.9" width="3.2" height="3.2" rx="0.6"/><rect x="221.1" y="193.9" width="3.2" height="3.2" rx="0.6"/><rect x="215.8" y="193.8" width="3.2" height="3.2" rx="0.6"/><rect x="233.7" y="179.1" width="3.2" height="3.2" rx="0.6"/><rect x="233.2" y="155.0" width="3.2" height="3.2" rx="0.6"/><rect x="235.8" y="155.0" width="3.2" height="3.2" rx="0.6"/><rect x="219.7" y="173.8" width="3.2" height="3.2" rx="0.6"/><rect x="223.0" y="200.7" width="3.2" height="3.2" rx="0.6"/><rect x="228.3" y="176.8" width="3.2" height="3.2" rx="0.6"/><rect x="233.4" y="214.4" width="3.2" height="3.2" rx="0.6"/><rect x="227.5" y="191.4" width="3.2" height="3.2" rx="0.6"/><rect x="241.0" y="189.5" width="3.2" height="3.2" rx="0.6"/><rect x="251.7" y="146.7" width="3.2" height="3.2" rx="0.6"/><rect x="227.0" y="192.3" width="3.2" height="3.2" rx="0.6"/><rect x="238.0" y="197.1" width="3.2" height="3.2" rx="0.6"/><rect x="224.4" y="164.4" width="3.2" height="3.2" rx="0.6"/><rect x="215.4" y="164.9" width="3.2" height="3.2" rx="0.6"/><rect x="227.1" y="147.6" width="3.2" height="3.2" rx="0.6"/><rect x="224.5" y="176.1" width="3.2" height="3.2" rx="0.6"/><rect x="232.4" y="171.1" width="3.2" height="3.2" rx="0.6"/><rect x="217.7" y="176.9" width="3.2" height="3.2" rx="0.6"/><rect x="226.9" y="171.8" width="3.2" height="3.2" rx="0.6"/><rect x="227.5" y="198.7" width="3.2" height="3.2" rx="0.6"/><rect x="240.4" y="216.8" width="3.2" height="3.2" rx="0.6"/><rect x="218.8" y="176.4" width="3.2" height="3.2" rx="0.6"/><rect x="200.1" y="220.5" width="3.2" height="3.2" rx="0.6"/><rect x="219.4" y="183.8" width="3.2" height="3.2" rx="0.6"/><rect x="233.1" y="158.6" width="3.2" height="3.2" rx="0.6"/><rect x="232.5" y="183.9" width="3.2" height="3.2" rx="0.6"/><rect x="207.3" y="189.9" width="3.2" height="3.2" rx="0.6"/><rect x="240.5" y="148.9" width="3.2" height="3.2" rx="0.6"/><rect x="236.3" y="188.4" width="3.2" height="3.2" rx="0.6"/><rect x="232.6" y="192.8" width="3.2" height="3.2" rx="0.6"/><rect x="241.7" y="180.2" width="3.2" height="3.2" rx="0.6"/><rect x="237.0" y="176.6" width="3.2" height="3.2" rx="0.6"/><rect x="235.4" y="168.9" width="3.2" height="3.2" rx="0.6"/><rect x="232.3" y="181.4" width="3.2" height="3.2" rx="0.6"/><rect x="214.8" y="169.4" width="3.2" height="3.2" rx="0.6"/><rect x="229.5" y="202.2" width="3.2" height="3.2" rx="0.6"/><rect x="232.1" y="194.4" width="3.2" height="3.2" rx="0.6"/><rect x="223.1" y="174.0" width="3.2" height="3.2" rx="0.6"/><rect x="237.2" y="185.6" width="3.2" height="3.2" rx="0.6"/><rect x="224.3" y="173.5" width="3.2" height="3.2" rx="0.6"/><rect x="231.3" y="161.4" width="3.2" height="3.2" rx="0.6"/><rect x="232.1" y="187.8" width="3.2" height="3.2" rx="0.6"/><rect x="216.4" y="199.1" width="3.2" height="3.2" rx="0.6"/><rect x="224.3" y="178.0" width="3.2" height="3.2" rx="0.6"/><rect x="236.2" y="209.5" width="3.2" height="3.2" rx="0.6"/><rect x="219.8" y="192.7" width="3.2" height="3.2" rx="0.6"/><rect x="251.8" y="136.1" width="3.2" height="3.2" rx="0.6"/><rect x="222.6" y="193.9" width="3.2" height="3.2" rx="0.6"/><rect x="226.4" y="171.7" width="3.2" height="3.2" rx="0.6"/><rect x="251.1" y="185.9" width="3.2" height="3.2" rx="0.6"/><rect x="209.3" y="200.6" width="3.2" height="3.2" rx="0.6"/><rect x="208.5" y="206.3" width="3.2" height="3.2" rx="0.6"/><rect x="221.0" y="187.2" width="3.2" height="3.2" rx="0.6"/><rect x="241.3" y="186.6" width="3.2" height="3.2" rx="0.6"/><rect x="212.1" y="152.2" width="3.2" height="3.2" rx="0.6"/><rect x="240.4" y="198.5" width="3.2" height="3.2" rx="0.6"/><rect x="218.4" y="200.7" width="3.2" height="3.2" rx="0.6"/><rect x="232.9" y="196.7" width="3.2" height="3.2" rx="0.6"/><rect x="202.6" y="178.7" width="3.2" height="3.2" rx="0.6"/><rect x="237.3" y="198.3" width="3.2" height="3.2" rx="0.6"/><rect x="237.1" y="137.7" width="3.2" height="3.2" rx="0.6"/><rect x="229.3" y="193.8" width="3.2" height="3.2" rx="0.6"/><rect x="223.8" y="185.1" width="3.2" height="3.2" rx="0.6"/><rect x="237.1" y="176.0" width="3.2" height="3.2" rx="0.6"/><rect x="240.0" y="169.4" width="3.2" height="3.2" rx="0.6"/><rect x="230.3" y="174.4" width="3.2" height="3.2" rx="0.6"/><rect x="229.1" y="171.3" width="3.2" height="3.2" rx="0.6"/><rect x="209.8" y="205.2" width="3.2" height="3.2" rx="0.6"/><rect x="230.7" y="173.8" width="3.2" height="3.2" rx="0.6"/><rect x="229.6" y="203.2" width="3.2" height="3.2" rx="0.6"/><rect x="216.6" y="182.3" width="3.2" height="3.2" rx="0.6"/><rect x="233.3" y="194.4" width="3.2" height="3.2" rx="0.6"/><rect x="223.7" y="144.4" width="3.2" height="3.2" rx="0.6"/><rect x="241.1" y="190.6" width="3.2" height="3.2" rx="0.6"/><rect x="227.5" y="179.1" width="3.2" height="3.2" rx="0.6"/><rect x="230.3" y="176.3" width="3.2" height="3.2" rx="0.6"/><rect x="216.1" y="170.3" width="3.2" height="3.2" rx="0.6"/><rect x="220.8" y="172.8" width="3.2" height="3.2" rx="0.6"/><rect x="214.7" y="196.5" width="3.2" height="3.2" rx="0.6"/><rect x="213.0" y="196.9" width="3.2" height="3.2" rx="0.6"/><rect x="216.2" y="191.1" width="3.2" height="3.2" rx="0.6"/><rect x="242.5" y="188.3" width="3.2" height="3.2" rx="0.6"/><rect x="219.4" y="185.3" width="3.2" height="3.2" rx="0.6"/><rect x="229.0" y="151.5" width="3.2" height="3.2" rx="0.6"/><rect x="220.7" y="187.5" width="3.2" height="3.2" rx="0.6"/><rect x="222.2" y="185.9" width="3.2" height="3.2" rx="0.6"/><rect x="235.5" y="199.0" width="3.2" height="3.2" rx="0.6"/><rect x="237.4" y="195.6" width="3.2" height="3.2" rx="0.6"/><rect x="224.2" y="184.1" width="3.2" height="3.2" rx="0.6"/><rect x="224.4" y="178.4" width="3.2" height="3.2" rx="0.6"/><rect x="225.4" y="151.6" width="3.2" height="3.2" rx="0.6"/><rect x="223.7" y="183.9" width="3.2" height="3.2" rx="0.6"/><rect x="216.7" y="183.9" width="3.2" height="3.2" rx="0.6"/><rect x="233.1" y="181.3" width="3.2" height="3.2" rx="0.6"/><rect x="250.2" y="134.9" width="3.2" height="3.2" rx="0.6"/><rect x="225.1" y="149.7" width="3.2" height="3.2" rx="0.6"/><rect x="199.9" y="186.8" width="3.2" height="3.2" rx="0.6"/><rect x="233.1" y="178.7" width="3.2" height="3.2" rx="0.6"/><rect x="233.5" y="141.8" width="3.2" height="3.2" rx="0.6"/><rect x="236.8" y="191.5" width="3.2" height="3.2" rx="0.6"/><rect x="227.7" y="173.2" width="3.2" height="3.2" rx="0.6"/><rect x="234.4" y="175.2" width="3.2" height="3.2" rx="0.6"/><rect x="229.9" y="174.7" width="3.2" height="3.2" rx="0.6"/><rect x="202.7" y="183.8" width="3.2" height="3.2" rx="0.6"/><rect x="229.6" y="198.7" width="3.2" height="3.2" rx="0.6"/><rect x="217.8" y="183.8" width="3.2" height="3.2" rx="0.6"/><rect x="234.2" y="187.2" width="3.2" height="3.2" rx="0.6"/><rect x="241.1" y="222.2" width="3.2" height="3.2" rx="0.6"/><rect x="217.4" y="147.9" width="3.2" height="3.2" rx="0.6"/><rect x="236.8" y="213.5" width="3.2" height="3.2" rx="0.6"/><rect x="237.5" y="199.9" width="3.2" height="3.2" rx="0.6"/><rect x="220.6" y="170.8" width="3.2" height="3.2" rx="0.6"/><rect x="237.2" y="167.1" width="3.2" height="3.2" rx="0.6"/><rect x="207.5" y="165.4" width="3.2" height="3.2" rx="0.6"/><rect x="219.8" y="170.5" width="3.2" height="3.2" rx="0.6"/><rect x="229.9" y="170.2" width="3.2" height="3.2" rx="0.6"/><rect x="241.8" y="182.9" width="3.2" height="3.2" rx="0.6"/><rect x="215.5" y="209.3" width="3.2" height="3.2" rx="0.6"/><rect x="221.0" y="188.6" width="3.2" height="3.2" rx="0.6"/><rect x="227.3" y="178.4" width="3.2" height="3.2" rx="0.6"/><rect x="231.0" y="171.2" width="3.2" height="3.2" rx="0.6"/><rect x="207.1" y="142.4" width="3.2" height="3.2" rx="0.6"/><rect x="213.5" y="170.0" width="3.2" height="3.2" rx="0.6"/><rect x="227.1" y="185.5" width="3.2" height="3.2" rx="0.6"/><rect x="233.5" y="186.7" width="3.2" height="3.2" rx="0.6"/><rect x="218.7" y="170.9" width="3.2" height="3.2" rx="0.6"/><rect x="204.1" y="181.2" width="3.2" height="3.2" rx="0.6"/><rect x="232.7" y="194.5" width="3.2" height="3.2" rx="0.6"/><rect x="226.1" y="181.1" width="3.2" height="3.2" rx="0.6"/><rect x="237.7" y="184.7" width="3.2" height="3.2" rx="0.6"/><rect x="235.5" y="195.5" width="3.2" height="3.2" rx="0.6"/><rect x="229.7" y="209.2" width="3.2" height="3.2" rx="0.6"/><rect x="221.1" y="177.6" width="3.2" height="3.2" rx="0.6"/><rect x="218.5" y="169.3" width="3.2" height="3.2" rx="0.6"/><rect x="244.5" y="217.8" width="3.2" height="3.2" rx="0.6"/><rect x="227.7" y="195.2" width="3.2" height="3.2" rx="0.6"/><rect x="240.3" y="199.7" width="3.2" height="3.2" rx="0.6"/><rect x="240.7" y="160.4" width="3.2" height="3.2" rx="0.6"/><rect x="220.4" y="193.0" width="3.2" height="3.2" rx="0.6"/><rect x="243.2" y="186.4" width="3.2" height="3.2" rx="0.6"/><rect x="218.0" y="177.7" width="3.2" height="3.2" rx="0.6"/><rect x="220.1" y="168.1" width="3.2" height="3.2" rx="0.6"/><rect x="243.9" y="172.5" width="3.2" height="3.2" rx="0.6"/><rect x="240.4" y="190.8" width="3.2" height="3.2" rx="0.6"/><rect x="220.7" y="192.2" width="3.2" height="3.2" rx="0.6"/><rect x="245.2" y="196.2" width="3.2" height="3.2" rx="0.6"/><rect x="241.3" y="186.3" width="3.2" height="3.2" rx="0.6"/><rect x="233.1" y="180.6" width="3.2" height="3.2" rx="0.6"/><rect x="232.1" y="209.1" width="3.2" height="3.2" rx="0.6"/><rect x="211.7" y="183.2" width="3.2" height="3.2" rx="0.6"/><rect x="230.0" y="173.5" width="3.2" height="3.2" rx="0.6"/><rect x="224.0" y="199.4" width="3.2" height="3.2" rx="0.6"/><rect x="249.4" y="196.4" width="3.2" height="3.2" rx="0.6"/><rect x="231.0" y="154.9" width="3.2" height="3.2" rx="0.6"/><rect x="248.6" y="185.9" width="3.2" height="3.2" rx="0.6"/><rect x="227.0" y="163.2" width="3.2" height="3.2" rx="0.6"/><rect x="226.8" y="163.6" width="3.2" height="3.2" rx="0.6"/><rect x="228.2" y="193.3" width="3.2" height="3.2" rx="0.6"/><rect x="227.7" y="189.7" width="3.2" height="3.2" rx="0.6"/><rect x="218.0" y="211.6" width="3.2" height="3.2" rx="0.6"/><rect x="239.1" y="210.2" width="3.2" height="3.2" rx="0.6"/><rect x="239.7" y="164.4" width="3.2" height="3.2" rx="0.6"/><rect x="233.9" y="177.8" width="3.2" height="3.2" rx="0.6"/><rect x="242.6" y="184.7" width="3.2" height="3.2" rx="0.6"/><rect x="223.2" y="194.1" width="3.2" height="3.2" rx="0.6"/><rect x="249.1" y="160.5" width="3.2" height="3.2" rx="0.6"/><rect x="246.0" y="144.6" width="3.2" height="3.2" rx="0.6"/><rect x="223.0" y="162.1" width="3.2" height="3.2" rx="0.6"/><rect x="240.9" y="218.0" width="3.2" height="3.2" rx="0.6"/><rect x="241.0" y="169.2" width="3.2" height="3.2" rx="0.6"/><rect x="246.0" y="169.4" width="3.2" height="3.2" rx="0.6"/><rect x="236.7" y="198.1" width="3.2" height="3.2" rx="0.6"/><rect x="238.0" y="220.7" width="3.2" height="3.2" rx="0.6"/><rect x="230.8" y="209.7" width="3.2" height="3.2" rx="0.6"/><rect x="239.2" y="211.1" width="3.2" height="3.2" rx="0.6"/><rect x="229.6" y="200.6" width="3.2" height="3.2" rx="0.6"/><rect x="234.5" y="167.7" width="3.2" height="3.2" rx="0.6"/><rect x="221.2" y="192.6" width="3.2" height="3.2" rx="0.6"/><rect x="216.3" y="215.4" width="3.2" height="3.2" rx="0.6"/><rect x="218.8" y="145.5" width="3.2" height="3.2" rx="0.6"/><rect x="217.3" y="216.8" width="3.2" height="3.2" rx="0.6"/><rect x="226.2" y="154.6" width="3.2" height="3.2" rx="0.6"/><rect x="214.5" y="146.7" width="3.2" height="3.2" rx="0.6"/><rect x="239.0" y="193.5" width="3.2" height="3.2" rx="0.6"/><rect x="239.2" y="201.6" width="3.2" height="3.2" rx="0.6"/><rect x="215.8" y="190.0" width="3.2" height="3.2" rx="0.6"/><rect x="226.8" y="208.0" width="3.2" height="3.2" rx="0.6"/><rect x="243.7" y="213.8" width="3.2" height="3.2" rx="0.6"/><rect x="215.8" y="212.0" width="3.2" height="3.2" rx="0.6"/><rect x="247.2" y="218.0" width="3.2" height="3.2" rx="0.6"/><rect x="217.4" y="159.7" width="3.2" height="3.2" rx="0.6"/><rect x="217.5" y="146.1" width="3.2" height="3.2" rx="0.6"/><rect x="244.8" y="207.5" width="3.2" height="3.2" rx="0.6"/><rect x="236.9" y="208.6" width="3.2" height="3.2" rx="0.6"/><rect x="236.8" y="166.1" width="3.2" height="3.2" rx="0.6"/><rect x="217.1" y="151.1" width="3.2" height="3.2" rx="0.6"/><rect x="241.4" y="159.6" width="3.2" height="3.2" rx="0.6"/><rect x="225.2" y="176.9" width="3.2" height="3.2" rx="0.6"/><rect x="214.2" y="163.7" width="3.2" height="3.2" rx="0.6"/><rect x="175.3" y="155.8" width="3.2" height="3.2" rx="0.6"/><rect x="183.4" y="160.8" width="3.2" height="3.2" rx="0.6"/><rect x="195.3" y="174.7" width="3.2" height="3.2" rx="0.6"/><rect x="172.9" y="168.7" width="3.2" height="3.2" rx="0.6"/><rect x="176.8" y="155.9" width="3.2" height="3.2" rx="0.6"/><rect x="175.4" y="157.8" width="3.2" height="3.2" rx="0.6"/><rect x="195.2" y="175.2" width="3.2" height="3.2" rx="0.6"/><rect x="174.5" y="142.9" width="3.2" height="3.2" rx="0.6"/><rect x="160.7" y="154.9" width="3.2" height="3.2" rx="0.6"/><rect x="196.6" y="180.7" width="3.2" height="3.2" rx="0.6"/><rect x="180.5" y="159.0" width="3.2" height="3.2" rx="0.6"/><rect x="198.7" y="182.1" width="3.2" height="3.2" rx="0.6"/><rect x="188.5" y="171.9" width="3.2" height="3.2" rx="0.6"/><rect x="196.4" y="175.5" width="3.2" height="3.2" rx="0.6"/><rect x="192.4" y="163.6" width="3.2" height="3.2" rx="0.6"/><rect x="174.8" y="166.8" width="3.2" height="3.2" rx="0.6"/><rect x="206.5" y="183.1" width="3.2" height="3.2" rx="0.6"/><rect x="168.3" y="159.5" width="3.2" height="3.2" rx="0.6"/><rect x="193.1" y="176.9" width="3.2" height="3.2" rx="0.6"/><rect x="197.9" y="183.1" width="3.2" height="3.2" rx="0.6"/><rect x="185.2" y="157.7" width="3.2" height="3.2" rx="0.6"/><rect x="186.4" y="174.9" width="3.2" height="3.2" rx="0.6"/><rect x="175.9" y="150.9" width="3.2" height="3.2" rx="0.6"/><rect x="195.0" y="178.6" width="3.2" height="3.2" rx="0.6"/><rect x="191.2" y="172.2" width="3.2" height="3.2" rx="0.6"/><rect x="185.3" y="163.0" width="3.2" height="3.2" rx="0.6"/><rect x="170.6" y="168.1" width="3.2" height="3.2" rx="0.6"/><rect x="197.6" y="178.4" width="3.2" height="3.2" rx="0.6"/><rect x="172.3" y="167.1" width="3.2" height="3.2" rx="0.6"/><rect x="170.5" y="161.9" width="3.2" height="3.2" rx="0.6"/><rect x="119.0" y="222.5" width="3.2" height="3.2" rx="0.6"/><rect x="153.7" y="195.6" width="3.2" height="3.2" rx="0.6"/><rect x="135.3" y="213.7" width="3.2" height="3.2" rx="0.6"/><rect x="151.5" y="198.9" width="3.2" height="3.2" rx="0.6"/><rect x="148.2" y="197.0" width="3.2" height="3.2" rx="0.6"/><rect x="135.7" y="211.2" width="3.2" height="3.2" rx="0.6"/><rect x="163.3" y="195.3" width="3.2" height="3.2" rx="0.6"/><rect x="145.0" y="211.6" width="3.2" height="3.2" rx="0.6"/><rect x="153.1" y="218.3" width="3.2" height="3.2" rx="0.6"/><rect x="156.0" y="209.1" width="3.2" height="3.2" rx="0.6"/><rect x="160.3" y="208.1" width="3.2" height="3.2" rx="0.6"/><rect x="148.7" y="196.5" width="3.2" height="3.2" rx="0.6"/><rect x="156.4" y="209.8" width="3.2" height="3.2" rx="0.6"/><rect x="147.6" y="194.3" width="3.2" height="3.2" rx="0.6"/><rect x="150.5" y="220.8" width="3.2" height="3.2" rx="0.6"/><rect x="156.2" y="193.2" width="3.2" height="3.2" rx="0.6"/><rect x="140.3" y="223.1" width="3.2" height="3.2" rx="0.6"/><rect x="165.1" y="199.9" width="3.2" height="3.2" rx="0.6"/><rect x="143.2" y="210.0" width="3.2" height="3.2" rx="0.6"/><rect x="141.6" y="206.0" width="3.2" height="3.2" rx="0.6"/><rect x="159.0" y="200.0" width="3.2" height="3.2" rx="0.6"/><rect x="136.0" y="221.7" width="3.2" height="3.2" rx="0.6"/><rect x="135.0" y="212.3" width="3.2" height="3.2" rx="0.6"/><rect x="120.1" y="223.6" width="3.2" height="3.2" rx="0.6"/><rect x="136.5" y="209.0" width="3.2" height="3.2" rx="0.6"/><rect x="162.6" y="47.7" width="3.2" height="3.2" rx="0.6"/><rect x="186.5" y="55.4" width="3.2" height="3.2" rx="0.6"/><rect x="156.1" y="44.3" width="3.2" height="3.2" rx="0.6"/><rect x="157.4" y="42.6" width="3.2" height="3.2" rx="0.6"/><rect x="186.4" y="54.6" width="3.2" height="3.2" rx="0.6"/><rect x="175.1" y="41.9" width="3.2" height="3.2" rx="0.6"/><rect x="160.4" y="44.2" width="3.2" height="3.2" rx="0.6"/><rect x="186.7" y="58.0" width="3.2" height="3.2" rx="0.6"/><rect x="176.2" y="47.7" width="3.2" height="3.2" rx="0.6"/><rect x="163.8" y="48.1" width="3.2" height="3.2" rx="0.6"/><rect x="164.0" y="46.3" width="3.2" height="3.2" rx="0.6"/><rect x="156.8" y="48.3" width="3.2" height="3.2" rx="0.6"/><rect x="158.9" y="45.8" width="3.2" height="3.2" rx="0.6"/><rect x="167.2" y="50.2" width="3.2" height="3.2" rx="0.6"/><rect x="176.7" y="47.5" width="3.2" height="3.2" rx="0.6"/><rect x="193.9" y="56.2" width="3.2" height="3.2" rx="0.6"/><rect x="193.5" y="57.7" width="3.2" height="3.2" rx="0.6"/><rect x="188.9" y="58.5" width="3.2" height="3.2" rx="0.6"/><rect x="146.8" y="43.4" width="3.2" height="3.2" rx="0.6"/><rect x="158.0" y="47.9" width="3.2" height="3.2" rx="0.6"/><rect x="156.6" y="44.7" width="3.2" height="3.2" rx="0.6"/><rect x="154.7" y="42.9" width="3.2" height="3.2" rx="0.6"/><rect x="154.8" y="43.8" width="3.2" height="3.2" rx="0.6"/><rect x="184.3" y="49.1" width="3.2" height="3.2" rx="0.6"/><rect x="187.4" y="55.6" width="3.2" height="3.2" rx="0.6"/><rect x="178.3" y="55.2" width="3.2" height="3.2" rx="0.6"/><rect x="169.4" y="48.4" width="3.2" height="3.2" rx="0.6"/><rect x="158.1" y="47.0" width="3.2" height="3.2" rx="0.6"/><rect x="121.0" y="38.7" width="3.2" height="3.2" rx="0.6"/><rect x="78.2" y="36.0" width="3.2" height="3.2" rx="0.6"/><rect x="120.8" y="38.2" width="3.2" height="3.2" rx="0.6"/><rect x="166.5" y="51.0" width="3.2" height="3.2" rx="0.6"/><rect x="61.2" y="35.6" width="3.2" height="3.2" rx="0.6"/><rect x="129.6" y="40.8" width="3.2" height="3.2" rx="0.6"/><rect x="142.2" y="44.5" width="3.2" height="3.2" rx="0.6"/><rect x="111.9" y="35.1" width="3.2" height="3.2" rx="0.6"/><rect x="178.6" y="50.8" width="3.2" height="3.2" rx="0.6"/><rect x="138.6" y="43.4" width="3.2" height="3.2" rx="0.6"/><rect x="63.9" y="34.3" width="3.2" height="3.2" rx="0.6"/><rect x="175.0" y="50.7" width="3.2" height="3.2" rx="0.6"/><rect x="101.0" y="34.3" width="3.2" height="3.2" rx="0.6"/><rect x="120.0" y="40.5" width="3.2" height="3.2" rx="0.6"/><rect x="170.8" y="48.5" width="3.2" height="3.2" rx="0.6"/><rect x="137.3" y="43.8" width="3.2" height="3.2" rx="0.6"/><rect x="102.0" y="35.5" width="3.2" height="3.2" rx="0.6"/><rect x="118.8" y="38.9" width="3.2" height="3.2" rx="0.6"/><rect x="125.0" y="41.7" width="3.2" height="3.2" rx="0.6"/><rect x="113.9" y="35.4" width="3.2" height="3.2" rx="0.6"/><rect x="112.4" y="33.0" width="3.2" height="3.2" rx="0.6"/><rect x="96.4" y="35.5" width="3.2" height="3.2" rx="0.6"/><rect x="162.2" y="47.9" width="3.2" height="3.2" rx="0.6"/><rect x="93.8" y="35.4" width="3.2" height="3.2" rx="0.6"/><rect x="122.7" y="38.2" width="3.2" height="3.2" rx="0.6"/><rect x="157.8" y="48.6" width="3.2" height="3.2" rx="0.6"/><rect x="101.1" y="36.1" width="3.2" height="3.2" rx="0.6"/><rect x="132.5" y="41.8" width="3.2" height="3.2" rx="0.6"/><rect x="138.5" y="44.7" width="3.2" height="3.2" rx="0.6"/><rect x="149.3" y="46.6" width="3.2" height="3.2" rx="0.6"/><rect x="169.3" y="50.9" width="3.2" height="3.2" rx="0.6"/><rect x="97.3" y="36.7" width="3.2" height="3.2" rx="0.6"/><rect x="61.2" y="35.1" width="3.2" height="3.2" rx="0.6"/><rect x="135.3" y="39.5" width="3.2" height="3.2" rx="0.6"/><rect x="141.3" y="44.3" width="3.2" height="3.2" rx="0.6"/><rect x="135.6" y="39.5" width="3.2" height="3.2" rx="0.6"/><rect x="136.3" y="42.0" width="3.2" height="3.2" rx="0.6"/><rect x="133.7" y="41.3" width="3.2" height="3.2" rx="0.6"/><rect x="95.9" y="218.3" width="3.2" height="3.2" rx="0.6"/><rect x="83.6" y="221.0" width="3.2" height="3.2" rx="0.6"/><rect x="100.3" y="218.7" width="3.2" height="3.2" rx="0.6"/><rect x="60.4" y="218.3" width="3.2" height="3.2" rx="0.6"/><rect x="101.0" y="220.5" width="3.2" height="3.2" rx="0.6"/><rect x="78.7" y="219.3" width="3.2" height="3.2" rx="0.6"/><rect x="103.6" y="218.1" width="3.2" height="3.2" rx="0.6"/><rect x="72.6" y="220.5" width="3.2" height="3.2" rx="0.6"/><rect x="75.0" y="219.3" width="3.2" height="3.2" rx="0.6"/><rect x="82.1" y="218.4" width="3.2" height="3.2" rx="0.6"/><rect x="93.7" y="218.2" width="3.2" height="3.2" rx="0.6"/><rect x="89.6" y="217.7" width="3.2" height="3.2" rx="0.6"/><rect x="60.6" y="220.7" width="3.2" height="3.2" rx="0.6"/><rect x="90.0" y="220.5" width="3.2" height="3.2" rx="0.6"/><rect x="108.9" y="217.8" width="3.2" height="3.2" rx="0.6"/><rect x="79.7" y="217.5" width="3.2" height="3.2" rx="0.6"/><rect x="91.0" y="223.9" width="3.2" height="3.2" rx="0.6"/><rect x="84.5" y="220.1" width="3.2" height="3.2" rx="0.6"/><rect x="81.1" y="220.3" width="3.2" height="3.2" rx="0.6"/><rect x="70.1" y="219.6" width="3.2" height="3.2" rx="0.6"/><rect x="66.7" y="217.6" width="3.2" height="3.2" rx="0.6"/><rect x="96.0" y="217.4" width="3.2" height="3.2" rx="0.6"/><rect x="65.1" y="218.5" width="3.2" height="3.2" rx="0.6"/><rect x="106.2" y="217.6" width="3.2" height="3.2" rx="0.6"/><rect x="65.5" y="221.4" width="3.2" height="3.2" rx="0.6"/></g>
</g>
<rect x="68" y="53.2" width="43.5" height="21.5" fill="none" stroke="#1a1a1a" stroke-width="0.9"/>
<rect x="110.5" y="73" width="27.69999999999999" height="26.299999999999997" fill="none" stroke="#1a1a1a" stroke-width="0.9"/>
<rect x="97.5" y="111.2" width="42.099999999999994" height="45.3" fill="none" stroke="#1a1a1a" stroke-width="0.9"/>
<rect x="65.7" y="181.5" width="48.599999999999994" height="31.099999999999994" fill="none" stroke="#1a1a1a" stroke-width="0.9"/>
<rect x="168.5" y="58" width="25.900000000000006" height="74.19999999999999" fill="none" stroke="#1a1a1a" stroke-width="0.9"/>
<rect x="206.5" y="190.5" width="38.5" height="29.400000000000006" fill="none" stroke="#1a1a1a" stroke-width="0.9"/>
<rect x="86.5" y="49.7" width="7.5" height="27.5" fill="#fff"/>
<text x="90.2" y="67.2" font-size="10.5" text-anchor="middle">3</text>
<rect x="120" y="72.4" width="7.599999999999994" height="27.89999999999999" fill="#fff"/>
<text x="123.8" y="90.1" font-size="10.5" text-anchor="middle">4</text>
<rect x="114" y="119.6" width="8.099999999999994" height="27.700000000000017" fill="#fff"/>
<text x="118.0" y="137.2" font-size="10.5" text-anchor="middle">5</text>
<rect x="86.5" y="183.8" width="7.5" height="26.5" fill="#fff"/>
<text x="90.2" y="200.9" font-size="10.5" text-anchor="middle">6</text>
<rect x="176.7" y="83" width="8.100000000000023" height="26.900000000000006" fill="#fff"/>
<text x="180.8" y="100.2" font-size="10.5" text-anchor="middle">2</text>
<rect x="59" y="33.25" width="195.5" height="194.75" fill="none" stroke="#000" stroke-width="2"/>
<line x1="53.2" y1="51.0" x2="58" y2="51.0" stroke="#000" stroke-width="1.1"/>
<line x1="53.2" y1="94.7" x2="58" y2="94.7" stroke="#000" stroke-width="1.1"/>
<line x1="53.2" y1="139.5" x2="58" y2="139.5" stroke="#000" stroke-width="1.1"/>
<line x1="53.2" y1="186.0" x2="58" y2="186.0" stroke="#000" stroke-width="1.1"/>
<line x1="53.2" y1="216.0" x2="58" y2="216.0" stroke="#000" stroke-width="1.1"/>
<line x1="55" y1="81.5" x2="58" y2="81.5" stroke="#000" stroke-width="1"/>
<line x1="55" y1="73.8" x2="58" y2="73.8" stroke="#000" stroke-width="1"/>
<line x1="55" y1="68.4" x2="58" y2="68.4" stroke="#000" stroke-width="1"/>
<line x1="55" y1="64.2" x2="58" y2="64.2" stroke="#000" stroke-width="1"/>
<line x1="55" y1="60.7" x2="58" y2="60.7" stroke="#000" stroke-width="1"/>
<line x1="55" y1="57.8" x2="58" y2="57.8" stroke="#000" stroke-width="1"/>
<line x1="55" y1="55.2" x2="58" y2="55.2" stroke="#000" stroke-width="1"/>
<line x1="55" y1="53.0" x2="58" y2="53.0" stroke="#000" stroke-width="1"/>
<line x1="55" y1="126.0" x2="58" y2="126.0" stroke="#000" stroke-width="1"/>
<line x1="55" y1="118.1" x2="58" y2="118.1" stroke="#000" stroke-width="1"/>
<line x1="55" y1="112.5" x2="58" y2="112.5" stroke="#000" stroke-width="1"/>
<line x1="55" y1="108.2" x2="58" y2="108.2" stroke="#000" stroke-width="1"/>
<line x1="55" y1="104.6" x2="58" y2="104.6" stroke="#000" stroke-width="1"/>
<line x1="55" y1="101.6" x2="58" y2="101.6" stroke="#000" stroke-width="1"/>
<line x1="55" y1="99.0" x2="58" y2="99.0" stroke="#000" stroke-width="1"/>
<line x1="55" y1="96.7" x2="58" y2="96.7" stroke="#000" stroke-width="1"/>
<line x1="55" y1="174.7" x2="58" y2="174.7" stroke="#000" stroke-width="1"/>
<line x1="55" y1="165.0" x2="58" y2="165.0" stroke="#000" stroke-width="1"/>
<line x1="55" y1="157.1" x2="58" y2="157.1" stroke="#000" stroke-width="1"/>
<line x1="55" y1="151.9" x2="58" y2="151.9" stroke="#000" stroke-width="1"/>
<line x1="55" y1="147.5" x2="58" y2="147.5" stroke="#000" stroke-width="1"/>
<line x1="55" y1="144.0" x2="58" y2="144.0" stroke="#000" stroke-width="1"/>
<line x1="55" y1="196.0" x2="58" y2="196.0" stroke="#000" stroke-width="1"/>
<line x1="55" y1="198.5" x2="58" y2="198.5" stroke="#000" stroke-width="1"/>
<line x1="55" y1="201.0" x2="58" y2="201.0" stroke="#000" stroke-width="1"/>
<line x1="55" y1="203.5" x2="58" y2="203.5" stroke="#000" stroke-width="1"/>
<line x1="55" y1="206.0" x2="58" y2="206.0" stroke="#000" stroke-width="1"/>
<line x1="55" y1="209.0" x2="58" y2="209.0" stroke="#000" stroke-width="1"/>
<text x="30.6" y="55.8" font-size="11" fill="#333">10<tspan dx="0.6" dy="-4" font-size="8">5</tspan></text>
<text x="30.4" y="99.8" font-size="11" fill="#333">10<tspan dx="0.6" dy="-4" font-size="8">4</tspan></text>
<text x="30.6" y="146.5" font-size="11" fill="#333">10<tspan dx="0.6" dy="-4" font-size="8">3</tspan></text>
<text x="42" y="206" font-size="11" text-anchor="start" font-weight="normal" fill="#222">0</text>
<line x1="69.5" y1="229" x2="69.5" y2="233.8" stroke="#000" stroke-width="1.1"/>
<line x1="100.2" y1="229" x2="100.2" y2="233.8" stroke="#000" stroke-width="1.1"/>
<line x1="145.7" y1="229" x2="145.7" y2="233.8" stroke="#000" stroke-width="1.1"/>
<line x1="191.2" y1="229" x2="191.2" y2="233.8" stroke="#000" stroke-width="1.1"/>
<line x1="233.8" y1="229" x2="233.8" y2="233.8" stroke="#000" stroke-width="1.1"/>
<line x1="75.0" y1="229" x2="75.0" y2="232" stroke="#000" stroke-width="1"/>
<line x1="79.0" y1="229" x2="79.0" y2="232" stroke="#000" stroke-width="1"/>
<line x1="82.0" y1="229" x2="82.0" y2="232" stroke="#000" stroke-width="1"/>
<line x1="85.0" y1="229" x2="85.0" y2="232" stroke="#000" stroke-width="1"/>
<line x1="88.0" y1="229" x2="88.0" y2="232" stroke="#000" stroke-width="1"/>
<line x1="91.0" y1="229" x2="91.0" y2="232" stroke="#000" stroke-width="1"/>
<line x1="95.0" y1="229" x2="95.0" y2="232" stroke="#000" stroke-width="1"/>
<line x1="141.2" y1="229" x2="141.2" y2="232" stroke="#000" stroke-width="1"/>
<line x1="137.7" y1="229" x2="137.7" y2="232" stroke="#000" stroke-width="1"/>
<line x1="133.3" y1="229" x2="133.3" y2="232" stroke="#000" stroke-width="1"/>
<line x1="128.1" y1="229" x2="128.1" y2="232" stroke="#000" stroke-width="1"/>
<line x1="120.2" y1="229" x2="120.2" y2="232" stroke="#000" stroke-width="1"/>
<line x1="110.5" y1="229" x2="110.5" y2="232" stroke="#000" stroke-width="1"/>
<line x1="159.4" y1="229" x2="159.4" y2="232" stroke="#000" stroke-width="1"/>
<line x1="167.4" y1="229" x2="167.4" y2="232" stroke="#000" stroke-width="1"/>
<line x1="173.1" y1="229" x2="173.1" y2="232" stroke="#000" stroke-width="1"/>
<line x1="177.5" y1="229" x2="177.5" y2="232" stroke="#000" stroke-width="1"/>
<line x1="181.1" y1="229" x2="181.1" y2="232" stroke="#000" stroke-width="1"/>
<line x1="184.2" y1="229" x2="184.2" y2="232" stroke="#000" stroke-width="1"/>
<line x1="186.8" y1="229" x2="186.8" y2="232" stroke="#000" stroke-width="1"/>
<line x1="189.1" y1="229" x2="189.1" y2="232" stroke="#000" stroke-width="1"/>
<line x1="204.0" y1="229" x2="204.0" y2="232" stroke="#000" stroke-width="1"/>
<line x1="211.5" y1="229" x2="211.5" y2="232" stroke="#000" stroke-width="1"/>
<line x1="216.8" y1="229" x2="216.8" y2="232" stroke="#000" stroke-width="1"/>
<line x1="221.0" y1="229" x2="221.0" y2="232" stroke="#000" stroke-width="1"/>
<line x1="224.3" y1="229" x2="224.3" y2="232" stroke="#000" stroke-width="1"/>
<line x1="227.2" y1="229" x2="227.2" y2="232" stroke="#000" stroke-width="1"/>
<line x1="229.7" y1="229" x2="229.7" y2="232" stroke="#000" stroke-width="1"/>
<line x1="231.9" y1="229" x2="231.9" y2="232" stroke="#000" stroke-width="1"/>
<line x1="246.6" y1="229" x2="246.6" y2="232" stroke="#000" stroke-width="1"/>
<text x="82.3" y="248.5" font-size="11" text-anchor="start" font-weight="normal" fill="#222">0</text>
<text x="136.1" y="248.5" font-size="11" fill="#333">10<tspan dx="0.6" dy="-4" font-size="8">3</tspan></text>
<text x="182.6" y="248.5" font-size="11" fill="#333">10<tspan dx="0.6" dy="-4" font-size="8">4</tspan></text>
<text x="228.1" y="248.5" font-size="11" fill="#333">10<tspan dx="0.6" dy="-4" font-size="8">5</tspan></text>
<text transform="translate(98,268) scale(0.62,1)" font-size="14.6" font-weight="normal" text-anchor="start" stroke="#111" stroke-width="0.45">CD34</text>
<line x1="125" y1="263.5" x2="241" y2="263.5" stroke="#000" stroke-width="2.1"/>
<path d="M248,263.5 L236,258.5 L239,263.5 L236,268.5 Z" fill="#000"/>
<text transform="translate(23,194) rotate(-90) scale(0.62,1)" font-size="14.6" font-weight="normal" text-anchor="start" stroke="#111" stroke-width="0.45">CD38</text>
<line x1="18.5" y1="167" x2="18.5" y2="47" stroke="#000" stroke-width="2.1"/>
<path d="M18.5,40 L13.0,52 L18.5,49 L24.0,52 Z" fill="#000"/>
<line x1="302" y1="68.5" x2="495" y2="68.5" stroke="#4a4a5a" stroke-width="1.3"/>
<path d="M398,68.5 L398.0,68.5 L410.0,68.1 L420.0,67.6 L428.0,66.9 L432.0,65.7 L435.0,64.0 L437.7,60.0 L439.5,57.0 L441.8,53.0 L443.5,47.5 L445.0,42.0 L446.5,38.5 L448.0,37.5 L449.5,38.5 L451.0,42.0 L452.3,47.5 L453.4,53.0 L454.5,57.5 L455.7,60.0 L457.5,64.0 L459.0,66.5 L460.8,68.5 L460.8,68.5 Z" fill="#0b1658" stroke="#0b1658" stroke-width="0.6" stroke-linejoin="round"/>
<line x1="302" y1="100.9" x2="495" y2="100.9" stroke="#6a7ae8" stroke-width="1.3"/>
<path d="M365,100.9 L365.0,100.9 L378.0,100.3 L388.0,99.3 L393.0,96.9 L397.0,92.9 L400.0,89.4 L403.0,85.5 L407.0,78.9 L411.0,72.9 L413.5,70.6 L415.0,70.1 L417.0,70.9 L419.0,72.9 L423.0,78.4 L428.5,85.5 L434.0,90.9 L442.0,95.9 L448.0,98.9 L454.0,100.9 L454,100.9 Z" fill="#0a3cf2" stroke="#0a3cf2" stroke-width="0.6" stroke-linejoin="round"/>
<line x1="302" y1="132.7" x2="495" y2="132.7" stroke="#7878de" stroke-width="1.3"/>
<path d="M343.8,132.7 L343.8,132.7 L350.0,129.7 L355.4,126.0 L362.0,120.7 L368.8,114.4 L373.0,111.2 L376.5,109.6 L379.0,108.2 L381.0,106.2 L382.5,106.9 L384.8,104.4 L386.8,106.7 L388.5,105.9 L390.4,106.2 L392.0,108.2 L394.0,108.7 L396.7,110.6 L400.0,114.7 L403.5,119.2 L408.0,122.7 L414.0,126.0 L420.0,129.7 L428.5,132.4 L435.0,132.7 L435,132.7 Z" fill="#4a4ae6" stroke="#4a4ae6" stroke-width="0.6" stroke-linejoin="round"/>
<line x1="302" y1="164.4" x2="495" y2="164.4" stroke="#9c9ce6" stroke-width="1.3"/>
<path d="M339.5,164.4 L339.5,164.4 L340.6,163.4 L342.3,156.4 L344.4,149.1 L346.5,141.4 L348.5,135.9 L350.5,134.1 L352.5,134.4 L354.5,137.4 L357.0,141.4 L360.0,146.4 L363.0,150.9 L366.5,154.4 L370.0,157.4 L374.0,159.9 L378.0,161.8 L383.0,163.2 L390.0,164.1 L395.0,164.4 L395,164.4 Z" fill="#7b7bea" stroke="#7b7bea" stroke-width="0.6" stroke-linejoin="round"/>
<line x1="302" y1="196.8" x2="495" y2="196.8" stroke="#bcbcd4" stroke-width="1.3"/>
<path d="M335.5,196.8 L335.5,196.8 L338.0,195.3 L341.5,191.1 L344.5,186.8 L347.0,182.8 L349.5,180.0 L350.8,179.5 L352.5,181.3 L355.0,185.3 L357.5,187.6 L360.0,188.8 L363.0,190.3 L367.0,192.0 L372.0,193.6 L378.0,195.0 L385.8,196.1 L395.0,196.6 L405.0,196.8 L405,196.8 Z" fill="#a0a0ee" stroke="#a0a0ee" stroke-width="0.6" stroke-linejoin="round"/>
<line x1="302" y1="227" x2="495" y2="227" stroke="#dcdcf6" stroke-width="1.3"/>
<path d="M339.5,227 L339.5,227.0 L340.5,225.0 L341.5,220.0 L342.5,213.0 L343.5,205.0 L344.6,199.0 L345.6,198.5 L346.5,202.0 L348.0,208.0 L349.5,213.0 L352.3,220.0 L354.5,224.0 L356.5,226.5 L358.0,227.0 L358,227 Z" fill="#dcdcf6" stroke="#dcdcf6" stroke-width="0.6" stroke-linejoin="round"/>
<rect x="301" y="33.25" width="195" height="194.05" fill="none" stroke="#000" stroke-width="2"/>
<text x="315" y="55.5" font-size="10.5" text-anchor="middle" font-weight="normal" >4</text>
<text x="315" y="87.9" font-size="10.5" text-anchor="middle" font-weight="normal" >5</text>
<text x="315" y="119.69999999999999" font-size="10.5" text-anchor="middle" font-weight="normal" >2</text>
<text x="315" y="151.4" font-size="10.5" text-anchor="middle" font-weight="normal" >3</text>
<text x="315" y="183.8" font-size="10.5" text-anchor="middle" font-weight="normal" >1</text>
<text x="315" y="216.8" font-size="10.5" text-anchor="middle" font-weight="normal" >6</text>
<line x1="309.1" y1="228" x2="309.1" y2="232.8" stroke="#000" stroke-width="1.1"/>
<line x1="343.0" y1="228" x2="343.0" y2="232.8" stroke="#000" stroke-width="1.1"/>
<line x1="377.5" y1="228" x2="377.5" y2="232.8" stroke="#000" stroke-width="1.1"/>
<line x1="431.0" y1="228" x2="431.0" y2="232.8" stroke="#000" stroke-width="1.1"/>
<line x1="476.3" y1="228" x2="476.3" y2="232.8" stroke="#000" stroke-width="1.1"/>
<line x1="312.5" y1="228" x2="312.5" y2="231" stroke="#000" stroke-width="1"/>
<line x1="315.9" y1="228" x2="315.9" y2="231" stroke="#000" stroke-width="1"/>
<line x1="319.3" y1="228" x2="319.3" y2="231" stroke="#000" stroke-width="1"/>
<line x1="322.7" y1="228" x2="322.7" y2="231" stroke="#000" stroke-width="1"/>
<line x1="326.1" y1="228" x2="326.1" y2="231" stroke="#000" stroke-width="1"/>
<line x1="329.5" y1="228" x2="329.5" y2="231" stroke="#000" stroke-width="1"/>
<line x1="332.9" y1="228" x2="332.9" y2="231" stroke="#000" stroke-width="1"/>
<line x1="336.3" y1="228" x2="336.3" y2="231" stroke="#000" stroke-width="1"/>
<line x1="339.7" y1="228" x2="339.7" y2="231" stroke="#000" stroke-width="1"/>
<line x1="339.5" y1="228" x2="339.5" y2="231" stroke="#000" stroke-width="1"/>
<line x1="341.0" y1="228" x2="341.0" y2="231" stroke="#000" stroke-width="1"/>
<line x1="344.5" y1="228" x2="344.5" y2="231" stroke="#000" stroke-width="1"/>
<line x1="346.0" y1="228" x2="346.0" y2="231" stroke="#000" stroke-width="1"/>
<line x1="347.2" y1="228" x2="347.2" y2="231" stroke="#000" stroke-width="1"/>
<line x1="353.0" y1="228" x2="353.0" y2="231" stroke="#000" stroke-width="1"/>
<line x1="356.8" y1="228" x2="356.8" y2="231" stroke="#000" stroke-width="1"/>
<line x1="360.7" y1="228" x2="360.7" y2="231" stroke="#000" stroke-width="1"/>
<line x1="364.0" y1="228" x2="364.0" y2="231" stroke="#000" stroke-width="1"/>
<line x1="367.9" y1="228" x2="367.9" y2="231" stroke="#000" stroke-width="1"/>
<line x1="370.8" y1="228" x2="370.8" y2="231" stroke="#000" stroke-width="1"/>
<line x1="373.7" y1="228" x2="373.7" y2="231" stroke="#000" stroke-width="1"/>
<line x1="375.6" y1="228" x2="375.6" y2="231" stroke="#000" stroke-width="1"/>
<line x1="393.6" y1="228" x2="393.6" y2="231" stroke="#000" stroke-width="1"/>
<line x1="403.0" y1="228" x2="403.0" y2="231" stroke="#000" stroke-width="1"/>
<line x1="409.7" y1="228" x2="409.7" y2="231" stroke="#000" stroke-width="1"/>
<line x1="414.9" y1="228" x2="414.9" y2="231" stroke="#000" stroke-width="1"/>
<line x1="419.1" y1="228" x2="419.1" y2="231" stroke="#000" stroke-width="1"/>
<line x1="422.7" y1="228" x2="422.7" y2="231" stroke="#000" stroke-width="1"/>
<line x1="425.8" y1="228" x2="425.8" y2="231" stroke="#000" stroke-width="1"/>
<line x1="428.6" y1="228" x2="428.6" y2="231" stroke="#000" stroke-width="1"/>
<line x1="444.6" y1="228" x2="444.6" y2="231" stroke="#000" stroke-width="1"/>
<line x1="452.6" y1="228" x2="452.6" y2="231" stroke="#000" stroke-width="1"/>
<line x1="458.3" y1="228" x2="458.3" y2="231" stroke="#000" stroke-width="1"/>
<line x1="462.7" y1="228" x2="462.7" y2="231" stroke="#000" stroke-width="1"/>
<line x1="466.3" y1="228" x2="466.3" y2="231" stroke="#000" stroke-width="1"/>
<line x1="469.3" y1="228" x2="469.3" y2="231" stroke="#000" stroke-width="1"/>
<line x1="471.9" y1="228" x2="471.9" y2="231" stroke="#000" stroke-width="1"/>
<line x1="474.2" y1="228" x2="474.2" y2="231" stroke="#000" stroke-width="1"/>
<line x1="489.9" y1="228" x2="489.9" y2="231" stroke="#000" stroke-width="1"/>
<text x="302.6" y="248.5" font-size="11" fill="#333">-10<tspan dx="0.6" dy="-4" font-size="8">3</tspan></text>
<text x="340.5" y="248.5" font-size="11" text-anchor="start" font-weight="normal" fill="#222">0</text>
<text x="370.4" y="248.5" font-size="11" fill="#333">10<tspan dx="0.6" dy="-4" font-size="8">3</tspan></text>
<text x="424.6" y="248.5" font-size="11" fill="#333">10<tspan dx="0.6" dy="-4" font-size="8">4</tspan></text>
<text x="470.4" y="248.5" font-size="11" fill="#333">10<tspan dx="0.6" dy="-4" font-size="8">5</tspan></text>
<text transform="translate(333.4,268) scale(0.67,1)" font-size="14" font-weight="normal" text-anchor="start" stroke="#111" stroke-width="0.45">BC133</text>
<line x1="367" y1="263.3" x2="486.5" y2="263.3" stroke="#000" stroke-width="2.1"/>
<path d="M493.5,263.3 L481.5,258.3 L484.5,263.3 L481.5,268.3 Z" fill="#000"/>
<defs><filter id="jetB" filterUnits="userSpaceOnUse" x="58" y="320.2" width="197" height="196.2" color-interpolation-filters="sRGB"><feGaussianBlur stdDeviation="1.3"/><feComponentTransfer><feFuncR type="table" tableValues="1.000 0.543 0.086 0.082 0.078 0.073 0.069 0.065 0.060 0.056 0.052 0.047 0.051 0.054 0.058 0.062 0.066 0.070 0.073 0.077 0.081 0.085 0.089 0.093 0.096 0.096 0.092 0.088 0.083 0.079 0.075 0.071 0.067 0.063 0.059 0.055 0.051 0.047 0.043 0.039 0.036 0.033 0.031 0.028 0.025 0.023 0.020 0.017 0.014 0.012 0.009 0.006 0.003 0.001 0.005 0.012 0.019 0.026 0.033 0.040 0.047 0.055 0.062 0.069 0.076 0.106 0.150 0.194 0.238 0.282 0.327 0.371 0.415 0.459 0.503 0.547 0.592 0.636 0.677 0.713 0.748 0.783 0.819 0.854 0.889 0.925 0.960 0.981 0.983 0.984 0.986 0.987 0.989 0.991 0.992 0.994 0.996 0.997 0.999 0.999 0.992 0.986 0.979 0.973 0.967 0.960 0.954 0.947 0.941 0.934 0.928 0.922"/><feFuncG type="table" tableValues="1.000 0.558 0.118 0.115 0.112 0.110 0.107 0.105 0.102 0.100 0.097 0.094 0.120 0.148 0.176 0.204 0.233 0.261 0.289 0.317 0.346 0.374 0.402 0.430 0.459 0.486 0.511 0.537 0.563 0.589 0.615 0.640 0.666 0.692 0.718 0.744 0.770 0.795 0.821 0.844 0.848 0.853 0.858 0.862 0.867 0.872 0.876 0.881 0.885 0.890 0.895 0.899 0.904 0.909 0.909 0.907 0.906 0.905 0.903 0.902 0.900 0.899 0.897 0.896 0.895 0.896 0.899 0.902 0.905 0.908 0.911 0.914 0.917 0.919 0.922 0.925 0.928 0.931 0.933 0.932 0.930 0.929 0.928 0.926 0.925 0.924 0.922 0.907 0.874 0.840 0.806 0.773 0.739 0.705 0.671 0.638 0.604 0.570 0.536 0.502 0.467 0.432 0.396 0.361 0.326 0.290 0.255 0.220 0.184 0.149 0.114 0.078"/><feFuncB type="table" tableValues="1.000 0.935 0.871 0.878 0.886 0.894 0.902 0.909 0.917 0.925 0.933 0.940 0.944 0.947 0.950 0.953 0.956 0.959 0.961 0.964 0.967 0.970 0.973 0.976 0.979 0.980 0.978 0.977 0.976 0.974 0.973 0.971 0.970 0.969 0.967 0.966 0.965 0.963 0.962 0.956 0.922 0.888 0.854 0.820 0.786 0.752 0.718 0.684 0.650 0.616 0.582 0.548 0.514 0.480 0.448 0.416 0.384 0.352 0.321 0.289 0.257 0.225 0.193 0.162 0.130 0.112 0.103 0.095 0.086 0.077 0.068 0.059 0.050 0.042 0.033 0.024 0.015 0.006 0.000 0.000 0.000 0.000 0.000 0.000 0.000 0.000 0.000 0.000 0.000 0.000 0.000 0.000 0.000 0.000 0.000 0.000 0.000 0.000 0.000 0.000 0.000 0.000 0.000 0.000 0.000 0.000 0.000 0.000 0.000 0.000 0.000 0.000"/><feFuncA type="identity"/></feComponentTransfer></filter><clipPath id="bc1"><path d="M68.5,392.5 L68.5,396.8 L71.3,400.3 L77.6,401.9 L84.8,402.8 L89.5,409.0 L94.4,410.4 L101.2,407.1 L128.7,405.3 L135.0,401.4 L140.1,394.6 L141.8,393.4 L133.3,388.1 L129.7,381.9 L126.7,378.2 L105.1,376.9 L93.3,378.6 L86.7,381.5 L81.3,384.7 L74.3,385.5 L70.0,388.1 Z"/></clipPath><radialGradient id="bg2"><stop offset="0" stop-color="rgb(97,97,97)" stop-opacity="1"/><stop offset="0.35" stop-color="rgb(97,97,97)" stop-opacity="0.8"/><stop offset="0.65" stop-color="rgb(97,97,97)" stop-opacity="0.4"/><stop offset="0.85" stop-color="rgb(97,97,97)" stop-opacity="0.12"/><stop offset="1" stop-color="rgb(97,97,97)" stop-opacity="0"/></radialGradient><radialGradient id="bg3"><stop offset="0" stop-color="rgb(148,148,148)" stop-opacity="1"/><stop offset="0.45" stop-color="rgb(148,148,148)" stop-opacity="0.88"/><stop offset="0.75" stop-color="rgb(148,148,148)" stop-opacity="0.5"/><stop offset="0.92" stop-color="rgb(148,148,148)" stop-opacity="0.15"/><stop offset="1" stop-color="rgb(148,148,148)" stop-opacity="0"/></radialGradient><radialGradient id="bg4"><stop offset="0" stop-color="rgb(133,133,133)" stop-opacity="1"/><stop offset="0.35" stop-color="rgb(133,133,133)" stop-opacity="0.8"/><stop offset="0.65" stop-color="rgb(133,133,133)" stop-opacity="0.4"/><stop offset="0.85" stop-color="rgb(133,133,133)" stop-opacity="0.12"/><stop offset="1" stop-color="rgb(133,133,133)" stop-opacity="0"/></radialGradient><radialGradient id="bg5"><stop offset="0" stop-color="rgb(204,204,204)" stop-opacity="1"/><stop offset="0.45" stop-color="rgb(204,204,204)" stop-opacity="0.88"/><stop offset="0.75" stop-color="rgb(204,204,204)" stop-opacity="0.5"/><stop offset="0.92" stop-color="rgb(204,204,204)" stop-opacity="0.15"/><stop offset="1" stop-color="rgb(204,204,204)" stop-opacity="0"/></radialGradient><radialGradient id="bg6"><stop offset="0" stop-color="rgb(245,245,245)" stop-opacity="1"/><stop offset="0.45" stop-color="rgb(245,245,245)" stop-opacity="0.88"/><stop offset="0.75" stop-color="rgb(245,245,245)" stop-opacity="0.5"/><stop offset="0.92" stop-color="rgb(245,245,245)" stop-opacity="0.15"/><stop offset="1" stop-color="rgb(245,245,245)" stop-opacity="0"/></radialGradient><clipPath id="bc7"><path d="M195.7,396.5 L191.5,400.0 L190.7,407.0 L189.0,411.4 L184.7,414.9 L182.4,423.4 L183.2,430.1 L180.8,440.3 L179.1,450.1 L179.1,459.6 L182.3,465.5 L183.2,471.6 L180.0,476.8 L180.5,478.9 L184.7,478.3 L191.3,476.6 L199.1,475.9 L201.8,471.8 L202.7,465.2 L207.1,461.9 L210.9,454.3 L215.8,439.6 L217.5,429.9 L216.7,418.6 L213.4,407.1 L210.2,399.1 L208.2,396.5 L202.0,395.6 Z"/></clipPath><radialGradient id="bg8"><stop offset="0" stop-color="rgb(56,56,56)" stop-opacity="1"/><stop offset="0.35" stop-color="rgb(56,56,56)" stop-opacity="0.8"/><stop offset="0.65" stop-color="rgb(56,56,56)" stop-opacity="0.4"/><stop offset="0.85" stop-color="rgb(56,56,56)" stop-opacity="0.12"/><stop offset="1" stop-color="rgb(56,56,56)" stop-opacity="0"/></radialGradient><radialGradient id="bg9"><stop offset="0" stop-color="rgb(148,148,148)" stop-opacity="1"/><stop offset="0.45" stop-color="rgb(148,148,148)" stop-opacity="0.88"/><stop offset="0.75" stop-color="rgb(148,148,148)" stop-opacity="0.5"/><stop offset="0.92" stop-color="rgb(148,148,148)" stop-opacity="0.15"/><stop offset="1" stop-color="rgb(148,148,148)" stop-opacity="0"/></radialGradient><radialGradient id="bg10"><stop offset="0" stop-color="rgb(181,181,181)" stop-opacity="1"/><stop offset="0.45" stop-color="rgb(181,181,181)" stop-opacity="0.88"/><stop offset="0.75" stop-color="rgb(181,181,181)" stop-opacity="0.5"/><stop offset="0.92" stop-color="rgb(181,181,181)" stop-opacity="0.15"/><stop offset="1" stop-color="rgb(181,181,181)" stop-opacity="0"/></radialGradient><radialGradient id="bg11"><stop offset="0" stop-color="rgb(207,207,207)" stop-opacity="1"/><stop offset="0.45" stop-color="rgb(207,207,207)" stop-opacity="0.88"/><stop offset="0.75" stop-color="rgb(207,207,207)" stop-opacity="0.5"/><stop offset="0.92" stop-color="rgb(207,207,207)" stop-opacity="0.15"/><stop offset="1" stop-color="rgb(207,207,207)" stop-opacity="0"/></radialGradient><radialGradient id="bg12"><stop offset="0" stop-color="rgb(232,232,232)" stop-opacity="1"/><stop offset="0.45" stop-color="rgb(232,232,232)" stop-opacity="0.88"/><stop offset="0.75" stop-color="rgb(232,232,232)" stop-opacity="0.5"/><stop offset="0.92" stop-color="rgb(232,232,232)" stop-opacity="0.15"/><stop offset="1" stop-color="rgb(232,232,232)" stop-opacity="0"/></radialGradient><radialGradient id="bg13"><stop offset="0" stop-color="rgb(61,61,61)" stop-opacity="1"/><stop offset="0.35" stop-color="rgb(61,61,61)" stop-opacity="0.8"/><stop offset="0.65" stop-color="rgb(61,61,61)" stop-opacity="0.4"/><stop offset="0.85" stop-color="rgb(61,61,61)" stop-opacity="0.12"/><stop offset="1" stop-color="rgb(61,61,61)" stop-opacity="0"/></radialGradient><clipPath id="bc14"><path d="M230.3,468.1 L225.3,469.8 L223.0,476.1 L224.4,483.5 L228.0,487.9 L226.1,492.5 L235.4,492.5 L233.5,487.8 L236.6,483.6 L237.8,476.1 L235.2,469.8 Z"/></clipPath><radialGradient id="bg15"><stop offset="0" stop-color="rgb(140,140,140)" stop-opacity="1"/><stop offset="0.45" stop-color="rgb(140,140,140)" stop-opacity="0.88"/><stop offset="0.75" stop-color="rgb(140,140,140)" stop-opacity="0.5"/><stop offset="0.92" stop-color="rgb(140,140,140)" stop-opacity="0.15"/><stop offset="1" stop-color="rgb(140,140,140)" stop-opacity="0"/></radialGradient><clipPath id="bc16"><path d="M55.6,488.8 L55.6,516.4 L127.6,516.4 L129.8,506.0 L133.3,502.1 L139.9,501.4 L150.5,502.0 L156.0,506.0 L160.0,509.9 L168.4,511.1 L180.6,499.5 L180.0,491.0 L177.0,487.3 L171.6,485.0 L162.1,486.4 L160.7,485.7 L160.5,484.2 L163.2,478.9 L162.5,473.7 L159.2,470.4 L152.8,468.6 L146.8,468.6 L145.6,467.9 L143.9,464.1 L145.3,458.9 L146.2,458.4 L151.5,457.9 L155.6,455.5 L156.3,451.4 L154.0,448.4 L149.9,447.1 L145.8,448.0 L143.0,450.8 L141.7,456.1 L134.3,460.2 L132.9,463.8 L128.6,470.5 L121.1,470.6 L108.8,465.8 L102.3,464.6 L96.0,464.1 L91.0,464.6 L85.0,468.5 L80.1,468.6 L76.9,470.7 L75.7,478.4 L72.4,481.8 L66.9,483.3 L60.6,488.7 Z"/></clipPath><radialGradient id="bg17"><stop offset="0" stop-color="rgb(41,41,41)" stop-opacity="1"/><stop offset="0.35" stop-color="rgb(41,41,41)" stop-opacity="0.8"/><stop offset="0.65" stop-color="rgb(41,41,41)" stop-opacity="0.4"/><stop offset="0.85" stop-color="rgb(41,41,41)" stop-opacity="0.12"/><stop offset="1" stop-color="rgb(41,41,41)" stop-opacity="0"/></radialGradient><radialGradient id="bg18"><stop offset="0" stop-color="rgb(61,61,61)" stop-opacity="1"/><stop offset="0.35" stop-color="rgb(61,61,61)" stop-opacity="0.8"/><stop offset="0.65" stop-color="rgb(61,61,61)" stop-opacity="0.4"/><stop offset="0.85" stop-color="rgb(61,61,61)" stop-opacity="0.12"/><stop offset="1" stop-color="rgb(61,61,61)" stop-opacity="0"/></radialGradient><radialGradient id="bg19"><stop offset="0" stop-color="rgb(148,148,148)" stop-opacity="1"/><stop offset="0.45" stop-color="rgb(148,148,148)" stop-opacity="0.88"/><stop offset="0.75" stop-color="rgb(148,148,148)" stop-opacity="0.5"/><stop offset="0.92" stop-color="rgb(148,148,148)" stop-opacity="0.15"/><stop offset="1" stop-color="rgb(148,148,148)" stop-opacity="0"/></radialGradient><radialGradient id="bg20"><stop offset="0" stop-color="rgb(143,143,143)" stop-opacity="1"/><stop offset="0.45" stop-color="rgb(143,143,143)" stop-opacity="0.88"/><stop offset="0.75" stop-color="rgb(143,143,143)" stop-opacity="0.5"/><stop offset="0.92" stop-color="rgb(143,143,143)" stop-opacity="0.15"/><stop offset="1" stop-color="rgb(143,143,143)" stop-opacity="0"/></radialGradient><radialGradient id="bg21"><stop offset="0" stop-color="rgb(145,145,145)" stop-opacity="1"/><stop offset="0.45" stop-color="rgb(145,145,145)" stop-opacity="0.88"/><stop offset="0.75" stop-color="rgb(145,145,145)" stop-opacity="0.5"/><stop offset="0.92" stop-color="rgb(145,145,145)" stop-opacity="0.15"/><stop offset="1" stop-color="rgb(145,145,145)" stop-opacity="0"/></radialGradient><radialGradient id="bg22"><stop offset="0" stop-color="rgb(204,204,204)" stop-opacity="1"/><stop offset="0.45" stop-color="rgb(204,204,204)" stop-opacity="0.88"/><stop offset="0.75" stop-color="rgb(204,204,204)" stop-opacity="0.5"/><stop offset="0.92" stop-color="rgb(204,204,204)" stop-opacity="0.15"/><stop offset="1" stop-color="rgb(204,204,204)" stop-opacity="0"/></radialGradient><radialGradient id="bg23"><stop offset="0" stop-color="rgb(38,38,38)" stop-opacity="1"/><stop offset="0.35" stop-color="rgb(38,38,38)" stop-opacity="0.8"/><stop offset="0.65" stop-color="rgb(38,38,38)" stop-opacity="0.4"/><stop offset="0.85" stop-color="rgb(38,38,38)" stop-opacity="0.12"/><stop offset="1" stop-color="rgb(38,38,38)" stop-opacity="0"/></radialGradient><radialGradient id="bg24"><stop offset="0" stop-color="rgb(51,51,51)" stop-opacity="1"/><stop offset="0.35" stop-color="rgb(51,51,51)" stop-opacity="0.8"/><stop offset="0.65" stop-color="rgb(51,51,51)" stop-opacity="0.4"/><stop offset="0.85" stop-color="rgb(51,51,51)" stop-opacity="0.12"/><stop offset="1" stop-color="rgb(51,51,51)" stop-opacity="0"/></radialGradient><radialGradient id="bg25"><stop offset="0" stop-color="rgb(107,107,107)" stop-opacity="1"/><stop offset="0.35" stop-color="rgb(107,107,107)" stop-opacity="0.8"/><stop offset="0.65" stop-color="rgb(107,107,107)" stop-opacity="0.4"/><stop offset="0.85" stop-color="rgb(107,107,107)" stop-opacity="0.12"/><stop offset="1" stop-color="rgb(107,107,107)" stop-opacity="0"/></radialGradient><radialGradient id="bg26"><stop offset="0" stop-color="rgb(97,97,97)" stop-opacity="1"/><stop offset="0.35" stop-color="rgb(97,97,97)" stop-opacity="0.8"/><stop offset="0.65" stop-color="rgb(97,97,97)" stop-opacity="0.4"/><stop offset="0.85" stop-color="rgb(97,97,97)" stop-opacity="0.12"/><stop offset="1" stop-color="rgb(97,97,97)" stop-opacity="0"/></radialGradient><radialGradient id="bg27"><stop offset="0" stop-color="rgb(92,92,92)" stop-opacity="1"/><stop offset="0.35" stop-color="rgb(92,92,92)" stop-opacity="0.8"/><stop offset="0.65" stop-color="rgb(92,92,92)" stop-opacity="0.4"/><stop offset="0.85" stop-color="rgb(92,92,92)" stop-opacity="0.12"/><stop offset="1" stop-color="rgb(92,92,92)" stop-opacity="0"/></radialGradient><radialGradient id="bg28"><stop offset="0" stop-color="rgb(51,51,51)" stop-opacity="1"/><stop offset="0.35" stop-color="rgb(51,51,51)" stop-opacity="0.8"/><stop offset="0.65" stop-color="rgb(51,51,51)" stop-opacity="0.4"/><stop offset="0.85" stop-color="rgb(51,51,51)" stop-opacity="0.12"/><stop offset="1" stop-color="rgb(51,51,51)" stop-opacity="0"/></radialGradient><radialGradient id="bg29"><stop offset="0" stop-color="rgb(117,117,117)" stop-opacity="1"/><stop offset="0.35" stop-color="rgb(117,117,117)" stop-opacity="0.8"/><stop offset="0.65" stop-color="rgb(117,117,117)" stop-opacity="0.4"/><stop offset="0.85" stop-color="rgb(117,117,117)" stop-opacity="0.12"/><stop offset="1" stop-color="rgb(117,117,117)" stop-opacity="0"/></radialGradient><radialGradient id="bg30"><stop offset="0" stop-color="rgb(20,20,20)" stop-opacity="1"/><stop offset="0.45" stop-color="rgb(20,20,20)" stop-opacity="0.88"/><stop offset="0.75" stop-color="rgb(20,20,20)" stop-opacity="0.5"/><stop offset="0.92" stop-color="rgb(20,20,20)" stop-opacity="0.15"/><stop offset="1" stop-color="rgb(20,20,20)" stop-opacity="0"/></radialGradient><radialGradient id="bg31"><stop offset="0" stop-color="rgb(31,31,31)" stop-opacity="1"/><stop offset="0.35" stop-color="rgb(31,31,31)" stop-opacity="0.8"/><stop offset="0.65" stop-color="rgb(31,31,31)" stop-opacity="0.4"/><stop offset="0.85" stop-color="rgb(31,31,31)" stop-opacity="0.12"/><stop offset="1" stop-color="rgb(31,31,31)" stop-opacity="0"/></radialGradient><clipPath id="clipB"><rect x="59" y="321.2" width="195" height="194.2"/></clipPath></defs>
<g clip-path="url(#clipB)"><g filter="url(#jetB)"><rect x="49" y="311.2" width="215" height="214.2" fill="#000"/><path d="M68.5,392.5 L68.5,396.8 L71.3,400.3 L77.6,401.9 L84.8,402.8 L89.5,409.0 L94.4,410.4 L101.2,407.1 L128.7,405.3 L135.0,401.4 L140.1,394.6 L141.8,393.4 L133.3,388.1 L129.7,381.9 L126.7,378.2 L105.1,376.9 L93.3,378.6 L86.7,381.5 L81.3,384.7 L74.3,385.5 L70.0,388.1 Z" fill="rgb(87,87,87)"/><g clip-path="url(#bc1)"><ellipse cx="75" cy="393" rx="9" ry="8" fill="url(#bg2)"/><ellipse cx="108" cy="391.5" rx="33" ry="19" fill="url(#bg3)"/><ellipse cx="129" cy="391" rx="10" ry="10" fill="url(#bg4)"/><ellipse cx="106.5" cy="391" rx="19" ry="13" fill="url(#bg5)"/><ellipse cx="107" cy="391" rx="15" ry="10" fill="url(#bg6)"/></g><ellipse cx="120.1" cy="419.5" rx="6.6" ry="4.2" transform="rotate(-25 120.1 419.5)" fill="rgb(43,43,43)"/><ellipse cx="59" cy="416" rx="3" ry="3.5" fill="rgb(43,43,43)"/><ellipse cx="172.3" cy="432.5" rx="1.8" ry="4.3" transform="rotate(35 172.3 432.5)" fill="rgb(43,43,43)"/><path d="M195.7,396.5 L191.5,400.0 L190.7,407.0 L189.0,411.4 L184.7,414.9 L182.4,423.4 L183.2,430.1 L180.8,440.3 L179.1,450.1 L179.1,459.6 L182.3,465.5 L183.2,471.6 L180.0,476.8 L180.5,478.9 L184.7,478.3 L191.3,476.6 L199.1,475.9 L201.8,471.8 L202.7,465.2 L207.1,461.9 L210.9,454.3 L215.8,439.6 L217.5,429.9 L216.7,418.6 L213.4,407.1 L210.2,399.1 L208.2,396.5 L202.0,395.6 Z" fill="rgb(84,84,84)"/><g clip-path="url(#bc7)"><ellipse cx="200" cy="401" rx="11" ry="7" fill="url(#bg8)"/><ellipse cx="198.5" cy="437" rx="22" ry="31" fill="url(#bg9)"/><ellipse cx="199.5" cy="436" rx="15" ry="25" fill="url(#bg10)"/><ellipse cx="203" cy="424.5" rx="9" ry="12" fill="url(#bg11)"/><ellipse cx="203.5" cy="422.5" rx="5" ry="6.5" fill="url(#bg12)"/><ellipse cx="191" cy="472" rx="11" ry="7" fill="url(#bg13)"/></g><path d="M230.3,468.1 L225.3,469.8 L223.0,476.1 L224.4,483.5 L228.0,487.9 L226.1,492.5 L235.4,492.5 L233.5,487.8 L236.6,483.6 L237.8,476.1 L235.2,469.8 Z" fill="rgb(84,84,84)"/><g clip-path="url(#bc14)"><ellipse cx="230.8" cy="477.5" rx="6.5" ry="7.5" fill="url(#bg15)"/></g><ellipse cx="213.6" cy="483.7" rx="4.3" ry="3.9" fill="rgb(51,51,51)"/><ellipse cx="187" cy="516" rx="11" ry="4" fill="rgb(51,51,51)"/><ellipse cx="202.5" cy="515" rx="4.5" ry="4" fill="rgb(51,51,51)"/><path d="M55.6,488.8 L55.6,516.4 L127.6,516.4 L129.8,506.0 L133.3,502.1 L139.9,501.4 L150.5,502.0 L156.0,506.0 L160.0,509.9 L168.4,511.1 L180.6,499.5 L180.0,491.0 L177.0,487.3 L171.6,485.0 L162.1,486.4 L160.7,485.7 L160.5,484.2 L163.2,478.9 L162.5,473.7 L159.2,470.4 L152.8,468.6 L146.8,468.6 L145.6,467.9 L143.9,464.1 L145.3,458.9 L146.2,458.4 L151.5,457.9 L155.6,455.5 L156.3,451.4 L154.0,448.4 L149.9,447.1 L145.8,448.0 L143.0,450.8 L141.7,456.1 L134.3,460.2 L132.9,463.8 L128.6,470.5 L121.1,470.6 L108.8,465.8 L102.3,464.6 L96.0,464.1 L91.0,464.6 L85.0,468.5 L80.1,468.6 L76.9,470.7 L75.7,478.4 L72.4,481.8 L66.9,483.3 L60.6,488.7 Z" fill="rgb(84,84,84)"/><g clip-path="url(#bc16)"><ellipse cx="82" cy="473" rx="9" ry="6" fill="url(#bg17)"/><ellipse cx="68" cy="484" rx="8" ry="5" fill="url(#bg18)"/><ellipse cx="106" cy="489" rx="29" ry="20" fill="url(#bg19)"/><ellipse cx="130" cy="481" rx="10" ry="9" fill="url(#bg20)"/><ellipse cx="95.8" cy="512" rx="10" ry="6.5" fill="url(#bg21)"/><ellipse cx="104.6" cy="492.6" rx="8" ry="9" fill="url(#bg22)"/><ellipse cx="122" cy="509" rx="9" ry="7" fill="url(#bg23)"/><ellipse cx="146" cy="481" rx="9" ry="13" fill="url(#bg24)"/><ellipse cx="172" cy="497" rx="9" ry="10" fill="url(#bg25)"/><ellipse cx="150" cy="452" rx="7" ry="6" fill="url(#bg26)"/><ellipse cx="139" cy="462" rx="5" ry="5" fill="url(#bg27)"/><ellipse cx="145.5" cy="458.5" rx="3" ry="2.5" fill="url(#bg28)"/><ellipse cx="59" cy="501" rx="3.5" ry="14" fill="url(#bg29)"/><ellipse cx="72" cy="488.5" rx="16" ry="7" fill="url(#bg30)"/><ellipse cx="86" cy="506" rx="4" ry="12" fill="url(#bg31)"/><path d="M61.8,493.8 L81.6,493.8 Q83,504 82.3,518 L61.8,518 Z" fill="#000"/></g></g></g>
<path d="M62.5,494.5 L81,494.5 Q82.2,504 81.6,515 L62.5,515 Z" fill="#fff"/>
<rect x="59" y="321.2" width="195" height="194.2" fill="none" stroke="#000" stroke-width="2"/>
<line x1="176.5" y1="321.2" x2="176.5" y2="515.4" stroke="#000" stroke-width="1.5"/>
<line x1="59" y1="463.5" x2="254" y2="463.5" stroke="#000" stroke-width="1.5"/>
<text x="62.5" y="333.6" font-size="11" text-anchor="start" font-weight="normal" >32.9</text>
<text x="226.3" y="334" font-size="11" text-anchor="start" font-weight="normal" >27.9</text>
<text x="62.2" y="503.5" font-size="11" text-anchor="start" font-weight="normal" >32.2</text>
<text x="224.7" y="504.1" font-size="11" text-anchor="start" font-weight="normal" >6.97</text>
<line x1="53.2" y1="321.2" x2="58" y2="321.2" stroke="#000" stroke-width="1.1"/>
<line x1="53.2" y1="369.4" x2="58" y2="369.4" stroke="#000" stroke-width="1.1"/>
<line x1="53.2" y1="417.8" x2="58" y2="417.8" stroke="#000" stroke-width="1.1"/>
<line x1="53.2" y1="466.1" x2="58" y2="466.1" stroke="#000" stroke-width="1.1"/>
<line x1="53.2" y1="514.5" x2="58" y2="514.5" stroke="#000" stroke-width="1.1"/>
<line x1="55" y1="354.9" x2="58" y2="354.9" stroke="#000" stroke-width="1"/>
<line x1="55" y1="346.4" x2="58" y2="346.4" stroke="#000" stroke-width="1"/>
<line x1="55" y1="340.4" x2="58" y2="340.4" stroke="#000" stroke-width="1"/>
<line x1="55" y1="335.7" x2="58" y2="335.7" stroke="#000" stroke-width="1"/>
<line x1="55" y1="331.9" x2="58" y2="331.9" stroke="#000" stroke-width="1"/>
<line x1="55" y1="328.7" x2="58" y2="328.7" stroke="#000" stroke-width="1"/>
<line x1="55" y1="325.9" x2="58" y2="325.9" stroke="#000" stroke-width="1"/>
<line x1="55" y1="323.4" x2="58" y2="323.4" stroke="#000" stroke-width="1"/>
<line x1="55" y1="403.2" x2="58" y2="403.2" stroke="#000" stroke-width="1"/>
<line x1="55" y1="394.7" x2="58" y2="394.7" stroke="#000" stroke-width="1"/>
<line x1="55" y1="388.7" x2="58" y2="388.7" stroke="#000" stroke-width="1"/>
<line x1="55" y1="384.0" x2="58" y2="384.0" stroke="#000" stroke-width="1"/>
<line x1="55" y1="380.1" x2="58" y2="380.1" stroke="#000" stroke-width="1"/>
<line x1="55" y1="376.9" x2="58" y2="376.9" stroke="#000" stroke-width="1"/>
<line x1="55" y1="374.1" x2="58" y2="374.1" stroke="#000" stroke-width="1"/>
<line x1="55" y1="371.6" x2="58" y2="371.6" stroke="#000" stroke-width="1"/>
<line x1="55" y1="451.6" x2="58" y2="451.6" stroke="#000" stroke-width="1"/>
<line x1="55" y1="443.1" x2="58" y2="443.1" stroke="#000" stroke-width="1"/>
<line x1="55" y1="437.0" x2="58" y2="437.0" stroke="#000" stroke-width="1"/>
<line x1="55" y1="432.3" x2="58" y2="432.3" stroke="#000" stroke-width="1"/>
<line x1="55" y1="428.5" x2="58" y2="428.5" stroke="#000" stroke-width="1"/>
<line x1="55" y1="425.3" x2="58" y2="425.3" stroke="#000" stroke-width="1"/>
<line x1="55" y1="422.5" x2="58" y2="422.5" stroke="#000" stroke-width="1"/>
<line x1="55" y1="420.0" x2="58" y2="420.0" stroke="#000" stroke-width="1"/>
<line x1="55" y1="499.9" x2="58" y2="499.9" stroke="#000" stroke-width="1"/>
<line x1="55" y1="491.4" x2="58" y2="491.4" stroke="#000" stroke-width="1"/>
<line x1="55" y1="485.4" x2="58" y2="485.4" stroke="#000" stroke-width="1"/>
<line x1="55" y1="480.7" x2="58" y2="480.7" stroke="#000" stroke-width="1"/>
<line x1="55" y1="476.8" x2="58" y2="476.8" stroke="#000" stroke-width="1"/>
<line x1="55" y1="473.6" x2="58" y2="473.6" stroke="#000" stroke-width="1"/>
<line x1="55" y1="470.8" x2="58" y2="470.8" stroke="#000" stroke-width="1"/>
<line x1="55" y1="468.3" x2="58" y2="468.3" stroke="#000" stroke-width="1"/>
<text x="30.2" y="328.4" font-size="11" fill="#333">10<tspan dx="0.6" dy="-4" font-size="8">4</tspan></text>
<text x="30.2" y="374.7" font-size="11" fill="#333">10<tspan dx="0.6" dy="-4" font-size="8">3</tspan></text>
<text x="30.2" y="422.8" font-size="11" fill="#333">10<tspan dx="0.6" dy="-4" font-size="8">2</tspan></text>
<text x="30.2" y="471" font-size="11" fill="#333">10<tspan dx="0.6" dy="-4" font-size="8">1</tspan></text>
<text x="30.2" y="517.1" font-size="11" fill="#333">10<tspan dx="0.6" dy="-4" font-size="8">0</tspan></text>
<line x1="59.5" y1="516" x2="59.5" y2="520.8" stroke="#000" stroke-width="1.1"/>
<line x1="102.5" y1="516" x2="102.5" y2="520.8" stroke="#000" stroke-width="1.1"/>
<line x1="145.6" y1="516" x2="145.6" y2="520.8" stroke="#000" stroke-width="1.1"/>
<line x1="188.7" y1="516" x2="188.7" y2="520.8" stroke="#000" stroke-width="1.1"/>
<line x1="231.4" y1="516" x2="231.4" y2="520.8" stroke="#000" stroke-width="1.1"/>
<line x1="72.4" y1="516" x2="72.4" y2="519" stroke="#000" stroke-width="1"/>
<line x1="80.0" y1="516" x2="80.0" y2="519" stroke="#000" stroke-width="1"/>
<line x1="85.4" y1="516" x2="85.4" y2="519" stroke="#000" stroke-width="1"/>
<line x1="89.6" y1="516" x2="89.6" y2="519" stroke="#000" stroke-width="1"/>
<line x1="93.0" y1="516" x2="93.0" y2="519" stroke="#000" stroke-width="1"/>
<line x1="95.8" y1="516" x2="95.8" y2="519" stroke="#000" stroke-width="1"/>
<line x1="98.3" y1="516" x2="98.3" y2="519" stroke="#000" stroke-width="1"/>
<line x1="100.5" y1="516" x2="100.5" y2="519" stroke="#000" stroke-width="1"/>
<line x1="115.5" y1="516" x2="115.5" y2="519" stroke="#000" stroke-width="1"/>
<line x1="123.1" y1="516" x2="123.1" y2="519" stroke="#000" stroke-width="1"/>
<line x1="128.4" y1="516" x2="128.4" y2="519" stroke="#000" stroke-width="1"/>
<line x1="132.6" y1="516" x2="132.6" y2="519" stroke="#000" stroke-width="1"/>
<line x1="136.0" y1="516" x2="136.0" y2="519" stroke="#000" stroke-width="1"/>
<line x1="138.9" y1="516" x2="138.9" y2="519" stroke="#000" stroke-width="1"/>
<line x1="141.4" y1="516" x2="141.4" y2="519" stroke="#000" stroke-width="1"/>
<line x1="143.6" y1="516" x2="143.6" y2="519" stroke="#000" stroke-width="1"/>
<line x1="158.6" y1="516" x2="158.6" y2="519" stroke="#000" stroke-width="1"/>
<line x1="166.2" y1="516" x2="166.2" y2="519" stroke="#000" stroke-width="1"/>
<line x1="171.5" y1="516" x2="171.5" y2="519" stroke="#000" stroke-width="1"/>
<line x1="175.7" y1="516" x2="175.7" y2="519" stroke="#000" stroke-width="1"/>
<line x1="179.1" y1="516" x2="179.1" y2="519" stroke="#000" stroke-width="1"/>
<line x1="182.0" y1="516" x2="182.0" y2="519" stroke="#000" stroke-width="1"/>
<line x1="184.5" y1="516" x2="184.5" y2="519" stroke="#000" stroke-width="1"/>
<line x1="186.7" y1="516" x2="186.7" y2="519" stroke="#000" stroke-width="1"/>
<line x1="201.6" y1="516" x2="201.6" y2="519" stroke="#000" stroke-width="1"/>
<line x1="209.1" y1="516" x2="209.1" y2="519" stroke="#000" stroke-width="1"/>
<line x1="214.4" y1="516" x2="214.4" y2="519" stroke="#000" stroke-width="1"/>
<line x1="218.5" y1="516" x2="218.5" y2="519" stroke="#000" stroke-width="1"/>
<line x1="221.9" y1="516" x2="221.9" y2="519" stroke="#000" stroke-width="1"/>
<line x1="224.8" y1="516" x2="224.8" y2="519" stroke="#000" stroke-width="1"/>
<line x1="227.3" y1="516" x2="227.3" y2="519" stroke="#000" stroke-width="1"/>
<line x1="229.4" y1="516" x2="229.4" y2="519" stroke="#000" stroke-width="1"/>
<line x1="244.3" y1="516" x2="244.3" y2="519" stroke="#000" stroke-width="1"/>
<line x1="251.9" y1="516" x2="251.9" y2="519" stroke="#000" stroke-width="1"/>
<text x="61.8" y="536.2" font-size="11" fill="#333">10<tspan dx="0.6" dy="-4" font-size="8">0</tspan></text>
<text x="96.0" y="536.2" font-size="11" fill="#333">10<tspan dx="0.6" dy="-4" font-size="8">1</tspan></text>
<text x="137.8" y="536.2" font-size="11" fill="#333">10<tspan dx="0.6" dy="-4" font-size="8">2</tspan></text>
<text x="181.9" y="536.2" font-size="11" fill="#333">10<tspan dx="0.6" dy="-4" font-size="8">3</tspan></text>
<text x="224.2" y="536.2" font-size="11" fill="#333">10<tspan dx="0.6" dy="-4" font-size="8">4</tspan></text>
<text transform="translate(69.8,558.5) scale(0.62,1)" font-size="14.6" font-weight="normal" text-anchor="start" stroke="#111" stroke-width="0.45">CD34</text>
<line x1="98" y1="554" x2="245.6" y2="554" stroke="#000" stroke-width="2.1"/>
<path d="M252.6,554 L240.6,549 L243.6,554 L240.6,559 Z" fill="#000"/>
<text transform="translate(22.8,512.8) rotate(-90) scale(0.62,1)" font-size="14.6" font-weight="normal" text-anchor="start" stroke="#111" stroke-width="0.45">CD33</text>
<line x1="18.6" y1="483" x2="18.6" y2="325" stroke="#000" stroke-width="2.1"/>
<path d="M18.6,318 L13.100000000000001,330 L18.6,327 L24.1,330 Z" fill="#000"/>
<line x1="319.5" y1="348" x2="319.5" y2="491.5" stroke="#000" stroke-width="2"/>
<line x1="314.5" y1="490.7" x2="508.5" y2="490.7" stroke="#000" stroke-width="2"/>
<line x1="315" y1="444.37" x2="319" y2="444.37" stroke="#000" stroke-width="1.5"/>
<text x="310.9" y="448.27" font-size="11" text-anchor="end" font-weight="normal" fill="#222" letter-spacing="0.7">10</text>
<line x1="315" y1="398.03999999999996" x2="319" y2="398.03999999999996" stroke="#000" stroke-width="1.5"/>
<text x="310.9" y="401.93999999999994" font-size="11" text-anchor="end" font-weight="normal" fill="#222" letter-spacing="0.7">20</text>
<line x1="315" y1="351.71" x2="319" y2="351.71" stroke="#000" stroke-width="1.5"/>
<text x="310.9" y="355.60999999999996" font-size="11" text-anchor="end" font-weight="normal" fill="#222" letter-spacing="0.7">30</text>
<text x="310.4" y="494.59999999999997" font-size="11" text-anchor="end" font-weight="normal" fill="#222">0</text>
<line x1="318.6" y1="490" x2="318.6" y2="495" stroke="#000" stroke-width="1.5"/>
<text x="318.6" y="510" font-size="11" text-anchor="middle" font-weight="normal" fill="#222">-8</text>
<line x1="365.2" y1="490" x2="365.2" y2="495" stroke="#000" stroke-width="1.5"/>
<text x="365.2" y="510" font-size="11" text-anchor="middle" font-weight="normal" fill="#222">-6</text>
<line x1="411.8" y1="490" x2="411.8" y2="495" stroke="#000" stroke-width="1.5"/>
<text x="411.8" y="510" font-size="11" text-anchor="middle" font-weight="normal" fill="#222">-4</text>
<line x1="458.4" y1="490" x2="458.4" y2="495" stroke="#000" stroke-width="1.5"/>
<text x="458.4" y="510" font-size="11" text-anchor="middle" font-weight="normal" fill="#222">-2</text>
<line x1="505.0" y1="490" x2="505.0" y2="495" stroke="#000" stroke-width="1.5"/>
<text x="505.0" y="510" font-size="11" text-anchor="middle" font-weight="normal" fill="#222">0</text>
<text transform="translate(338.3,528.5) scale(0.735,1)" font-size="14" font-weight="normal" text-anchor="start" stroke="#111" stroke-width="0.25">Log BC133 concentration (μg/ml)</text>
<text transform="translate(288.2,452) rotate(-90) scale(0.79,1)" font-size="13.2" font-weight="normal" text-anchor="start" stroke="#111" stroke-width="0.25">% cytotoxicity</text>
<line x1="324.6" y1="357.3" x2="338" y2="357.3" stroke="#bb0a30" stroke-width="2"/><circle cx="331.3" cy="357.3" r="4.1" fill="#bb0a30"/>
<line x1="324.6" y1="373.7" x2="338" y2="373.7" stroke="#2b4a85" stroke-width="2"/><circle cx="331.3" cy="373.7" r="4.1" fill="#2b4a85"/>
<text x="342.2" y="360.7" font-size="10.9" text-anchor="start" font-weight="normal" letter-spacing="0.3">Molm13</text>
<text x="342.2" y="377.1" font-size="10.9" text-anchor="start" font-weight="normal" letter-spacing="0.55">CD34+</text>
<polyline points="365.20,445.28 366.37,445.28 367.53,445.28 368.69,445.28 369.86,445.27 371.02,445.27 372.19,445.26 373.36,445.26 374.52,445.25 375.69,445.24 376.85,445.23 378.01,445.22 379.18,445.21 380.35,445.19 381.51,445.18 382.68,445.15 383.84,445.13 385.00,445.10 386.17,445.07 387.33,445.03 388.50,444.98 389.66,444.93 390.83,444.86 392.00,444.79 393.16,444.70 394.32,444.60 395.49,444.48 396.65,444.34 397.82,444.17 398.99,443.98 400.15,443.76 401.31,443.50 402.48,443.19 403.64,442.84 404.81,442.43 405.98,441.95 407.14,441.41 408.31,440.77 409.47,440.04 410.63,439.21 411.80,438.25 412.97,437.17 414.13,435.94 415.30,434.55 416.46,433.00 417.62,431.28 418.79,429.37 419.95,427.29 421.12,425.03 422.28,422.60 423.45,420.02 424.62,417.32 425.78,414.50 426.94,411.62 428.11,408.70 429.27,405.77 430.44,402.89 431.61,400.08 432.77,397.37 433.94,394.79 435.10,392.36 436.26,390.10 437.43,388.02 438.60,386.12 439.76,384.39 440.93,382.84 442.09,381.45 443.25,380.22 444.42,379.14 445.58,378.18 446.75,377.35 447.92,376.62 449.08,375.99 450.25,375.44 451.41,374.96 452.57,374.55 453.74,374.20 454.90,373.90 456.07,373.64 457.24,373.41 458.40,373.22 459.56,373.06 460.73,372.92 461.89,372.80 463.06,372.69 464.23,372.60 465.39,372.53 466.56,372.47 467.72,372.41 468.88,372.36 470.05,372.33 471.21,372.29 472.38,372.26 473.55,372.24 474.71,372.22 475.88,372.20 477.04,372.18 478.21,372.17 479.37,372.16 480.54,372.15 481.70,372.14 482.87,372.13 484.03,372.13 485.19,372.12 486.36,372.12 487.52,372.12 488.69,372.11 489.86,372.11 491.02,372.11 492.19,372.11 493.35,372.10 494.52,372.10 495.68,372.10 496.85,372.10 498.01,372.10 499.18,372.10 500.34,372.10 501.50,372.10 502.67,372.10 503.83,372.10 505.00,372.10" fill="none" stroke="#bb0a30" stroke-width="2"/>
<polyline points="365.20,478.65 366.37,478.65 367.53,478.65 368.69,478.65 369.86,478.65 371.02,478.65 372.19,478.65 373.36,478.65 374.52,478.65 375.69,478.65 376.85,478.65 378.01,478.65 379.18,478.65 380.35,478.65 381.51,478.65 382.68,478.65 383.84,478.65 385.00,478.65 386.17,478.65 387.33,478.65 388.50,478.65 389.66,478.65 390.83,478.65 392.00,478.65 393.16,478.65 394.32,478.65 395.49,478.65 396.65,478.65 397.82,478.65 398.99,478.65 400.15,478.65 401.31,478.65 402.48,478.65 403.64,478.65 404.81,478.65 405.98,478.65 407.14,478.65 408.31,478.65 409.47,478.65 410.63,478.65 411.80,478.65 412.97,478.65 414.13,478.65 415.30,478.65 416.46,478.65 417.62,478.65 418.79,478.65 419.95,478.65 421.12,478.65 422.28,478.65 423.45,478.65 424.62,478.65 425.78,478.65 426.94,478.65 428.11,478.65 429.27,478.65 430.44,478.65 431.61,478.65 432.77,478.65 433.94,478.65 435.10,478.65 436.26,478.65 437.43,478.65 438.60,478.65 439.76,478.65 440.93,478.65 442.09,478.65 443.25,478.64 444.42,478.63 445.58,478.62 446.75,478.58 447.92,478.50 449.08,478.34 450.25,478.03 451.41,477.43 452.57,476.33 453.74,474.44 454.90,471.58 456.07,468.00 457.24,464.41 458.40,461.56 459.56,459.67 460.73,458.56 461.89,457.97 463.06,457.66 464.23,457.50 465.39,457.42 466.56,457.38 467.72,457.36 468.88,457.35 470.05,457.35 471.21,457.34 472.38,457.34 473.55,457.34 474.71,457.34 475.88,457.34 477.04,457.34 478.21,457.34 479.37,457.34 480.54,457.34 481.70,457.34 482.87,457.34 484.03,457.34 485.19,457.34 486.36,457.34 487.52,457.34 488.69,457.34 489.86,457.34 491.02,457.34 492.19,457.34 493.35,457.34 494.52,457.34 495.68,457.34 496.85,457.34 498.01,457.34 499.18,457.34 500.34,457.34 501.50,457.34 502.67,457.34 503.83,457.34 505.00,457.34" fill="none" stroke="#2b4a85" stroke-width="2"/>
<line x1="365.2" y1="437.3" x2="365.2" y2="447.7" stroke="#bb0a30" stroke-width="1.5"/>
<line x1="361.2" y1="437.3" x2="369.2" y2="437.3" stroke="#bb0a30" stroke-width="1.5"/>
<line x1="361.2" y1="447.7" x2="369.2" y2="447.7" stroke="#bb0a30" stroke-width="1.5"/>
<circle cx="365.20" cy="442.4" r="4.1" fill="#bb0a30"/>
<circle cx="388.50" cy="450" r="4.1" fill="#bb0a30"/>
<circle cx="411.80" cy="436.8" r="4.1" fill="#bb0a30"/>
<line x1="435.1" y1="390" x2="435.1" y2="401.8" stroke="#bb0a30" stroke-width="1.5"/>
<line x1="431.1" y1="390" x2="439.1" y2="390" stroke="#bb0a30" stroke-width="1.5"/>
<line x1="431.1" y1="401.8" x2="439.1" y2="401.8" stroke="#bb0a30" stroke-width="1.5"/>
<circle cx="435.10" cy="395.8" r="4.1" fill="#bb0a30"/>
<circle cx="458.40" cy="365.8" r="4.1" fill="#bb0a30"/>
<line x1="481.7" y1="361.3" x2="481.7" y2="375.8" stroke="#bb0a30" stroke-width="1.5"/>
<line x1="477.7" y1="361.3" x2="485.7" y2="361.3" stroke="#bb0a30" stroke-width="1.5"/>
<line x1="477.7" y1="375.8" x2="485.7" y2="375.8" stroke="#bb0a30" stroke-width="1.5"/>
<circle cx="481.70" cy="368.2" r="4.1" fill="#bb0a30"/>
<circle cx="505.00" cy="382.5" r="4.1" fill="#bb0a30"/>
<line x1="365.2" y1="467.3" x2="365.2" y2="495" stroke="#2b4a85" stroke-width="1.5"/>
<line x1="361.2" y1="467.3" x2="369.2" y2="467.3" stroke="#2b4a85" stroke-width="1.5"/>
<line x1="361.2" y1="495" x2="369.2" y2="495" stroke="#2b4a85" stroke-width="1.5"/>
<circle cx="365.20" cy="479.2" r="4.1" fill="#2b4a85"/>
<line x1="388.5" y1="476" x2="388.5" y2="487" stroke="#2b4a85" stroke-width="1.5"/>
<line x1="384.5" y1="476" x2="392.5" y2="476" stroke="#2b4a85" stroke-width="1.5"/>
<line x1="384.5" y1="487" x2="392.5" y2="487" stroke="#2b4a85" stroke-width="1.5"/>
<circle cx="388.50" cy="481.6" r="4.1" fill="#2b4a85"/>
<line x1="411.8" y1="459.2" x2="411.8" y2="481.8" stroke="#2b4a85" stroke-width="1.5"/>
<line x1="407.8" y1="459.2" x2="415.8" y2="459.2" stroke="#2b4a85" stroke-width="1.5"/>
<line x1="407.8" y1="481.8" x2="415.8" y2="481.8" stroke="#2b4a85" stroke-width="1.5"/>
<circle cx="411.80" cy="470.5" r="4.1" fill="#2b4a85"/>
<line x1="435.1" y1="471.2" x2="435.1" y2="489" stroke="#2b4a85" stroke-width="1.5"/>
<line x1="431.1" y1="471.2" x2="439.1" y2="471.2" stroke="#2b4a85" stroke-width="1.5"/>
<line x1="431.1" y1="489" x2="439.1" y2="489" stroke="#2b4a85" stroke-width="1.5"/>
<circle cx="435.10" cy="483.5" r="4.1" fill="#2b4a85"/>
<line x1="458.4" y1="453.4" x2="458.4" y2="461.8" stroke="#2b4a85" stroke-width="1.5"/>
<line x1="454.4" y1="453.4" x2="462.4" y2="453.4" stroke="#2b4a85" stroke-width="1.5"/>
<line x1="454.4" y1="461.8" x2="462.4" y2="461.8" stroke="#2b4a85" stroke-width="1.5"/>
<circle cx="458.40" cy="457.6" r="4.1" fill="#2b4a85"/>
<line x1="481.7" y1="458.5" x2="481.7" y2="467.5" stroke="#2b4a85" stroke-width="1.5"/>
<line x1="477.7" y1="458.5" x2="485.7" y2="458.5" stroke="#2b4a85" stroke-width="1.5"/>
<line x1="477.7" y1="467.5" x2="485.7" y2="467.5" stroke="#2b4a85" stroke-width="1.5"/>
<circle cx="481.70" cy="462.5" r="4.1" fill="#2b4a85"/>
<line x1="505.0" y1="440.8" x2="505.0" y2="465.5" stroke="#2b4a85" stroke-width="1.5"/>
<line x1="501.0" y1="440.8" x2="509.0" y2="440.8" stroke="#2b4a85" stroke-width="1.5"/>
<line x1="501.0" y1="465.5" x2="509.0" y2="465.5" stroke="#2b4a85" stroke-width="1.5"/>
<circle cx="505.00" cy="453" r="4.1" fill="#2b4a85"/>
<rect x="1" y="1" width="518" height="569" fill="none" stroke="#000" stroke-width="2"/>
</svg></body></html>
